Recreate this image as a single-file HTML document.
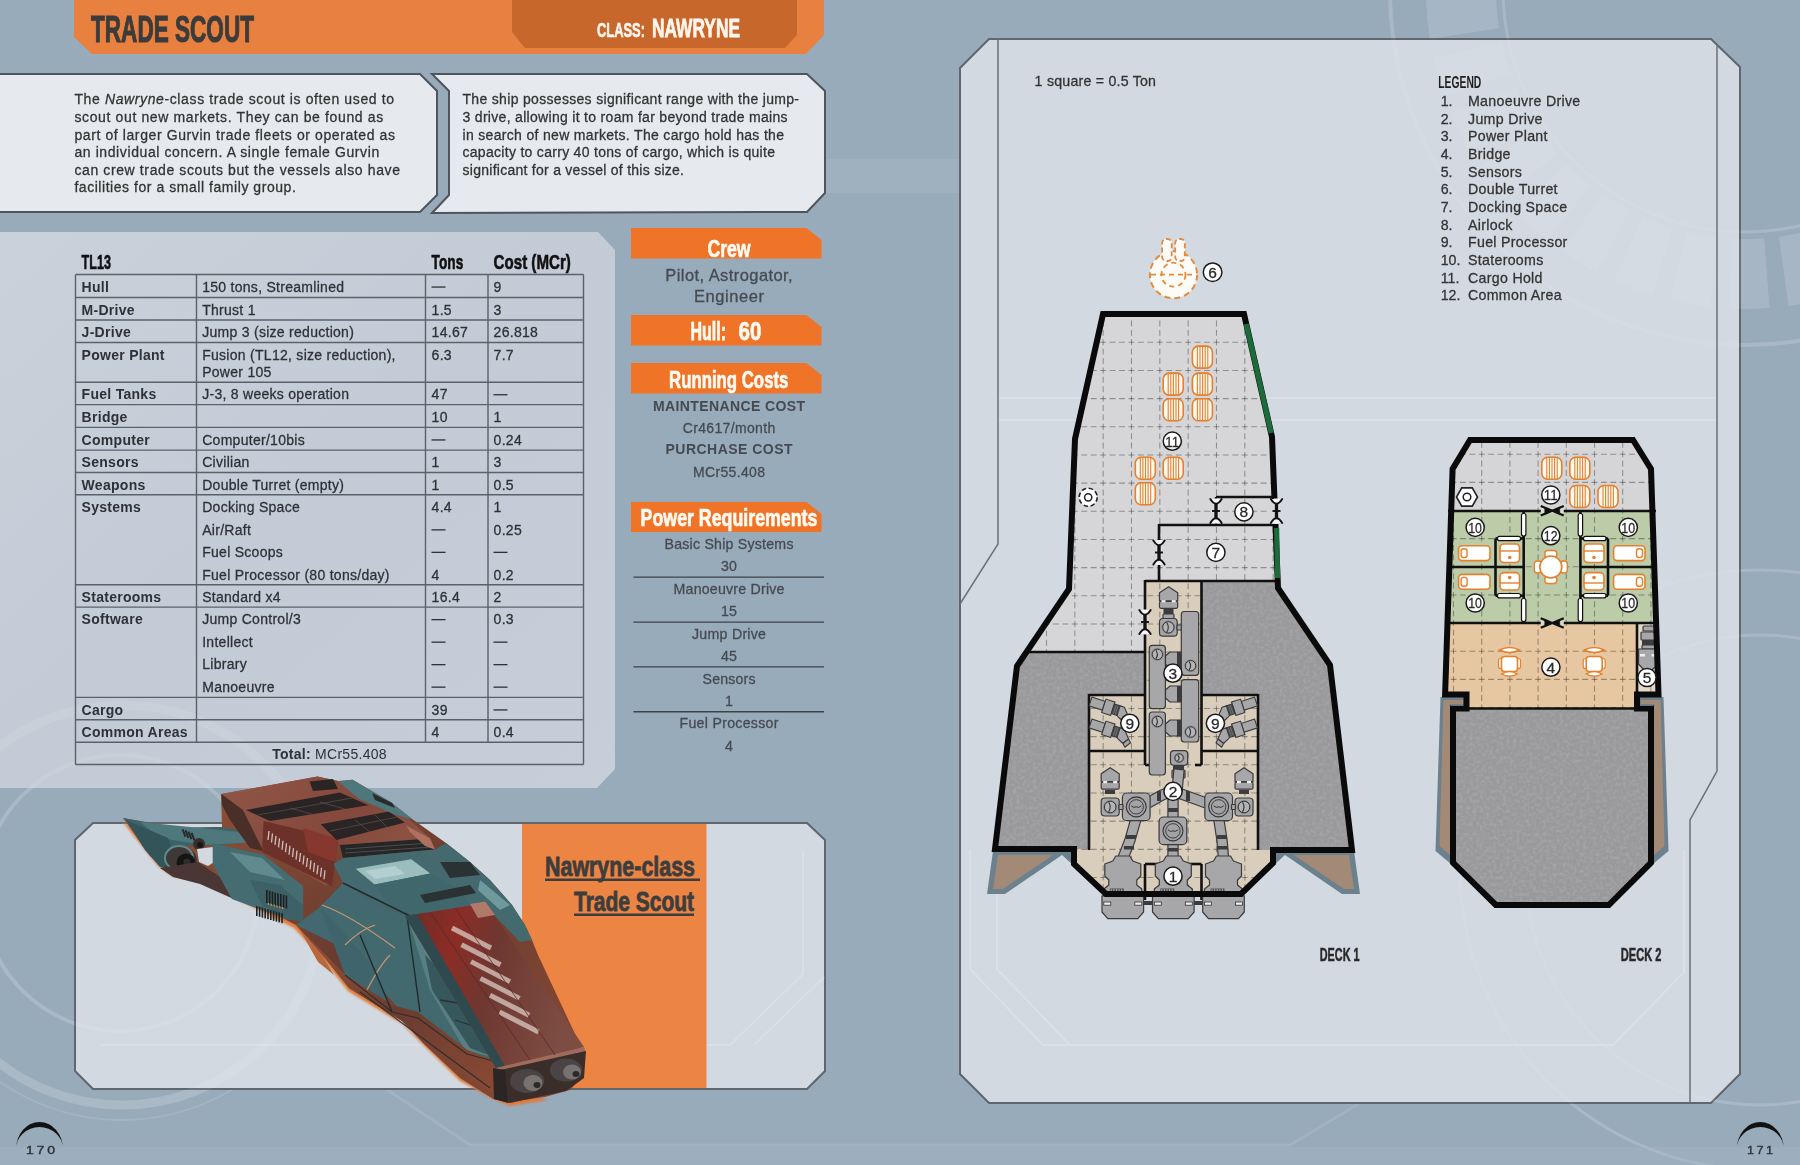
<!DOCTYPE html>
<html><head><meta charset="utf-8">
<style>
html,body{margin:0;padding:0;width:1800px;height:1165px;overflow:hidden;background:#9aacbb;}
svg{display:block;position:absolute;left:0;top:0;}
text{font-family:"Liberation Sans",sans-serif;}
.c{font-family:"Liberation Sans",sans-serif;font-weight:bold;}
</style></head><body>
<svg width="1800" height="1165" viewBox="0 0 1800 1165">
<defs>
<filter id="noise" x="0" y="0" width="100%" height="100%">
<feTurbulence type="fractalNoise" baseFrequency="0.3" numOctaves="2" seed="7" result="n"/>
<feColorMatrix in="n" type="matrix" values="0 0 0 0 0.42  0 0 0 0 0.42  0 0 0 0 0.43  0 0 0 1.3 -0.5" result="m"/>
<feComposite in="m" in2="SourceGraphic" operator="in" result="c"/>
<feMerge><feMergeNode in="SourceGraphic"/><feMergeNode in="c"/></feMerge>
</filter>
<linearGradient id="statg" x1="0" y1="0" x2="1" y2="1">
<stop offset="0" stop-color="#c9d2db"/><stop offset="0.5" stop-color="#c3ccd6"/><stop offset="1" stop-color="#c6cfd9"/>
</linearGradient>
</defs>
<rect x="0" y="0" width="1800" height="1165" fill="#98abbb"/>
<g fill="none" stroke="#ffffff" opacity="0.1"><circle cx="1745" cy="-10" r="355" stroke-width="4"/><circle cx="1745" cy="-10" r="242" stroke-width="3"/><circle cx="1745" cy="-10" r="284" stroke-width="70" stroke-dasharray="36,17" opacity="0.8"/><circle cx="1760" cy="870" r="300" stroke-width="3"/><circle cx="1760" cy="870" r="235" stroke-width="3"/><circle cx="120" cy="893" r="138" stroke-width="4"/><circle cx="122" cy="905" r="200" stroke-width="9"/><circle cx="122" cy="905" r="215" stroke-width="2"/></g>
<rect x="825" y="159" width="135" height="34" fill="#a1b2c1" opacity="0.8"/>
<rect x="0" y="1147" width="1800" height="18" fill="#a0b1bf" opacity="0.6"/>
<g fill="none" stroke="#a9bac7" stroke-width="3" opacity="0.5"><polyline points="380,1085 470,1145 1290,1145 1390,1085"/></g>
<polygon points="74,0 824,0 824,35 806,54 92,54 74,37" fill="#e8803f"/>
<polygon points="512,0 797,0 797,35 785,48 525,48 512,32" fill="#c8672c"/>
<text x="91" y="42" font-size="37.5" fill="#3b3b3b" font-weight="bold" textLength="163" lengthAdjust="spacingAndGlyphs" stroke="#3b3b3b" stroke-width="1.12" stroke-linejoin="miter">TRADE SCOUT</text>
<text x="597" y="37" font-size="20.5" fill="#fff6ee" font-weight="bold" textLength="48" lengthAdjust="spacingAndGlyphs" stroke="#fff6ee" stroke-width="0.61" stroke-linejoin="miter">CLASS:</text>
<text x="652" y="37" font-size="26.7" fill="#fff6ee" font-weight="bold" textLength="88" lengthAdjust="spacingAndGlyphs" stroke="#fff6ee" stroke-width="0.8" stroke-linejoin="miter">NAWRYNE</text>
<polygon points="-5,74 420,74 437,91 437,195 420,212 -5,212" fill="#e6e9ee" stroke="#4f555c" stroke-width="2"/>
<polygon points="432,74 807,74 825,91 825,193 807,212 432,213 449,195 449,91" fill="#e6e9ee" stroke="#4f555c" stroke-width="2"/>
<text x="74.4" y="104.4" font-size="14" fill="#333" textLength="319.6" lengthAdjust="spacing" stroke="#333" stroke-width="0.28">The <tspan font-style="italic">Nawryne</tspan>-class trade scout is often used to</text>
<text x="74.4" y="121.95" font-size="14" fill="#333" textLength="308.8" lengthAdjust="spacing" stroke="#333" stroke-width="0.28">scout out new markets. They can be found as</text>
<text x="74.4" y="139.5" font-size="14" fill="#333" textLength="320.6" lengthAdjust="spacing" stroke="#333" stroke-width="0.28">part of larger Gurvin trade fleets or operated as</text>
<text x="74.4" y="157.05" font-size="14" fill="#333" textLength="304.8" lengthAdjust="spacing" stroke="#333" stroke-width="0.28">an individual concern. A single female Gurvin</text>
<text x="74.4" y="174.6" font-size="14" fill="#333" textLength="325.6" lengthAdjust="spacing" stroke="#333" stroke-width="0.28">can crew trade scouts but the vessels also have</text>
<text x="74.4" y="192.15" font-size="14" fill="#333" textLength="221.4" lengthAdjust="spacing" stroke="#333" stroke-width="0.28">facilities for a small family group.</text>
<text x="462.5" y="104.4" font-size="14" fill="#333" textLength="336.5" lengthAdjust="spacing" stroke="#333" stroke-width="0.28">The ship possesses significant range with the jump-</text>
<text x="462.5" y="121.95" font-size="14" fill="#333" textLength="325.0" lengthAdjust="spacing" stroke="#333" stroke-width="0.28">3 drive, allowing it to roam far beyond trade mains</text>
<text x="462.5" y="139.5" font-size="14" fill="#333" textLength="321.5" lengthAdjust="spacing" stroke="#333" stroke-width="0.28">in search of new markets. The cargo hold has the</text>
<text x="462.5" y="157.05" font-size="14" fill="#333" textLength="312.5" lengthAdjust="spacing" stroke="#333" stroke-width="0.28">capacity to carry 40 tons of cargo, which is quite</text>
<text x="462.5" y="174.6" font-size="14" fill="#333" textLength="221.5" lengthAdjust="spacing" stroke="#333" stroke-width="0.28">significant for a vessel of this size.</text>
<polygon points="-5,232 598,232 615,250 615,769 597,788 -5,788" fill="url(#statg)"/>
<polygon points="93,823 807,823 825,840 825,1071 807,1089 93,1089 75,1071 75,840" fill="#d2d9e1" stroke="#5f666e" stroke-width="2"/>
<g fill="none" stroke="#ffffff" opacity="0.08"><circle cx="120" cy="893" r="138" stroke-width="4"/><circle cx="122" cy="905" r="200" stroke-width="9"/></g>
<g fill="none" stroke="#dfe5eb" stroke-width="2" opacity="0.5"><polyline points="803,850 803,974 730,1045 100,1045"/><polyline points="824,977 754,1045"/></g>
<rect x="522" y="824" width="184.5" height="264" fill="#ec8444"/>
<text x="545" y="876" font-size="27" fill="#3d3d3d" font-weight="bold" textLength="150" lengthAdjust="spacingAndGlyphs" stroke="#3d3d3d" stroke-width="0.81" stroke-linejoin="miter">Nawryne-class</text>
<rect x="545" y="878.5" width="155" height="2.5" fill="#3d3d3d"/>
<text x="574" y="911" font-size="27.5" fill="#3d3d3d" font-weight="bold" textLength="120" lengthAdjust="spacingAndGlyphs" stroke="#3d3d3d" stroke-width="0.82" stroke-linejoin="miter">Trade Scout</text>
<rect x="574" y="913.5" width="120" height="2.5" fill="#3d3d3d"/>
<polygon points="989,39 1711,39 1740,67 1740,1074 1711,1103 989,1103 960,1074 960,68" fill="#d2d9e1" stroke="#5f666e" stroke-width="2"/>
<g fill="none" stroke="#ffffff" opacity="0.07"><circle cx="1745" cy="-10" r="355" stroke-width="4"/><circle cx="1745" cy="-10" r="242" stroke-width="3"/><circle cx="1745" cy="-10" r="284" stroke-width="70" stroke-dasharray="36,17"/><circle cx="1760" cy="870" r="300" stroke-width="3"/><circle cx="1760" cy="870" r="235" stroke-width="3"/></g>
<g fill="none" stroke="#e2e7ed" stroke-width="2" opacity="0.5"><polyline points="970,850 970,969 1043,1045 1613,1045 1684,972 1684,850"/><polyline points="997,850 997,969 1070,1045"/><line x1="998" y1="398" x2="1717" y2="398"/><line x1="998" y1="420" x2="1717" y2="420"/></g>
<polyline points="998,39 998,544 960,604" fill="none" stroke="#6a7179" stroke-width="1.5"/>
<polyline points="1717,46 1717,771 1690,820 1690,1103" fill="none" stroke="#6a7179" stroke-width="1.5"/>
<path d="M 16.0,1149 A 23.5,27 0 0 1 63.0,1149 A 23.5,22 0 0 0 16.0,1149 Z" fill="#111"/>
<text x="26" y="1153.5" font-size="10.6" fill="#2e3236" stroke="#2e3236" stroke-width="0.35" textLength="29" lengthAdjust="spacingAndGlyphs" transform="translate(26 0) scale(1 1) translate(-26 0)">1&#8201;7&#8201;0</text>
<path d="M 1736.8,1149 A 23.5,27 0 0 1 1783.8,1149 A 23.5,22 0 0 0 1736.8,1149 Z" fill="#111"/>
<text x="1747" y="1153.5" font-size="10.6" fill="#2e3236" stroke="#2e3236" stroke-width="0.35" textLength="26" lengthAdjust="spacingAndGlyphs" transform="translate(1747 0) scale(1 1) translate(-1747 0)">1&#8201;7&#8201;1</text>
<g fill="none" stroke="#5b6168" stroke-width="1.4">
<line x1="75.5" y1="274.5" x2="583.5" y2="274.5"/>
<line x1="75.5" y1="297.5" x2="583.5" y2="297.5"/>
<line x1="75.5" y1="320" x2="583.5" y2="320"/>
<line x1="75.5" y1="342.5" x2="583.5" y2="342.5"/>
<line x1="75.5" y1="382.2" x2="583.5" y2="382.2"/>
<line x1="75.5" y1="404.6" x2="583.5" y2="404.6"/>
<line x1="75.5" y1="427.4" x2="583.5" y2="427.4"/>
<line x1="75.5" y1="450.1" x2="583.5" y2="450.1"/>
<line x1="75.5" y1="472.5" x2="583.5" y2="472.5"/>
<line x1="75.5" y1="494.8" x2="583.5" y2="494.8"/>
<line x1="75.5" y1="584.7" x2="583.5" y2="584.7"/>
<line x1="75.5" y1="607.1" x2="583.5" y2="607.1"/>
<line x1="75.5" y1="697.4" x2="583.5" y2="697.4"/>
<line x1="75.5" y1="719.8" x2="583.5" y2="719.8"/>
<line x1="75.5" y1="742.2" x2="583.5" y2="742.2"/>
<line x1="75.5" y1="764.5" x2="583.5" y2="764.5"/>
<line x1="75.5" y1="274.5" x2="75.5" y2="764.5"/>
<line x1="196.5" y1="274.5" x2="196.5" y2="742.2"/>
<line x1="425.5" y1="274.5" x2="425.5" y2="742.2"/>
<line x1="488" y1="274.5" x2="488" y2="742.2"/>
<line x1="583.5" y1="274.5" x2="583.5" y2="764.5"/>
</g>
<text x="81.6" y="269.3" font-size="20.5" fill="#111" font-weight="bold" textLength="29.3" lengthAdjust="spacingAndGlyphs" stroke="#111" stroke-width="0.61" stroke-linejoin="miter">TL13</text>
<text x="431.6" y="269.3" font-size="20.5" fill="#111" font-weight="bold" textLength="31.7" lengthAdjust="spacingAndGlyphs" stroke="#111" stroke-width="0.61" stroke-linejoin="miter">Tons</text>
<text x="493.6" y="269.3" font-size="20.5" fill="#111" font-weight="bold" textLength="77.2" lengthAdjust="spacingAndGlyphs" stroke="#111" stroke-width="0.61" stroke-linejoin="miter">Cost (MCr)</text>
<text x="81.6" y="291.7" font-size="14" fill="#2e3135" font-weight="bold" letter-spacing="0.28">Hull</text>
<text x="202.2" y="291.7" font-size="14" fill="#2e3135" stroke="#2e3135" stroke-width="0.28" letter-spacing="0.28">150 tons, Streamlined</text>
<rect x="431.5" y="286.4" width="14" height="1.3" fill="#2e3135"/>
<text x="493.6" y="291.7" font-size="14" fill="#2e3135" stroke="#2e3135" stroke-width="0.28" letter-spacing="0.28">9</text>
<text x="81.6" y="314.7" font-size="14" fill="#2e3135" font-weight="bold" letter-spacing="0.28">M-Drive</text>
<text x="202.2" y="314.7" font-size="14" fill="#2e3135" stroke="#2e3135" stroke-width="0.28" letter-spacing="0.28">Thrust 1</text>
<text x="431.6" y="314.7" font-size="14" fill="#2e3135" stroke="#2e3135" stroke-width="0.28" letter-spacing="0.28">1.5</text>
<text x="493.6" y="314.7" font-size="14" fill="#2e3135" stroke="#2e3135" stroke-width="0.28" letter-spacing="0.28">3</text>
<text x="81.6" y="337.2" font-size="14" fill="#2e3135" font-weight="bold" letter-spacing="0.28">J-Drive</text>
<text x="202.2" y="337.2" font-size="14" fill="#2e3135" stroke="#2e3135" stroke-width="0.28" letter-spacing="0.28">Jump 3 (size reduction)</text>
<text x="431.6" y="337.2" font-size="14" fill="#2e3135" stroke="#2e3135" stroke-width="0.28" letter-spacing="0.28">14.67</text>
<text x="493.6" y="337.2" font-size="14" fill="#2e3135" stroke="#2e3135" stroke-width="0.28" letter-spacing="0.28">26.818</text>
<text x="81.6" y="359.7" font-size="14" fill="#2e3135" font-weight="bold" letter-spacing="0.28">Power Plant</text>
<text x="202.2" y="359.7" font-size="14" fill="#2e3135" stroke="#2e3135" stroke-width="0.28" letter-spacing="0.28">Fusion (TL12, size reduction),</text>
<text x="202.2" y="377.0" font-size="14" fill="#2e3135" stroke="#2e3135" stroke-width="0.28" letter-spacing="0.28">Power 105</text>
<text x="431.6" y="359.7" font-size="14" fill="#2e3135" stroke="#2e3135" stroke-width="0.28" letter-spacing="0.28">6.3</text>
<text x="493.6" y="359.7" font-size="14" fill="#2e3135" stroke="#2e3135" stroke-width="0.28" letter-spacing="0.28">7.7</text>
<text x="81.6" y="399.4" font-size="14" fill="#2e3135" font-weight="bold" letter-spacing="0.28">Fuel Tanks</text>
<text x="202.2" y="399.4" font-size="14" fill="#2e3135" stroke="#2e3135" stroke-width="0.28" letter-spacing="0.28">J-3, 8 weeks operation</text>
<text x="431.6" y="399.4" font-size="14" fill="#2e3135" stroke="#2e3135" stroke-width="0.28" letter-spacing="0.28">47</text>
<rect x="493.5" y="394.1" width="14" height="1.3" fill="#2e3135"/>
<text x="81.6" y="421.8" font-size="14" fill="#2e3135" font-weight="bold" letter-spacing="0.28">Bridge</text>
<text x="431.6" y="421.8" font-size="14" fill="#2e3135" stroke="#2e3135" stroke-width="0.28" letter-spacing="0.28">10</text>
<text x="493.6" y="421.8" font-size="14" fill="#2e3135" stroke="#2e3135" stroke-width="0.28" letter-spacing="0.28">1</text>
<text x="81.6" y="444.59999999999997" font-size="14" fill="#2e3135" font-weight="bold" letter-spacing="0.28">Computer</text>
<text x="202.2" y="444.6" font-size="14" fill="#2e3135" stroke="#2e3135" stroke-width="0.28" letter-spacing="0.28">Computer/10bis</text>
<rect x="431.5" y="439.3" width="14" height="1.3" fill="#2e3135"/>
<text x="493.6" y="444.6" font-size="14" fill="#2e3135" stroke="#2e3135" stroke-width="0.28" letter-spacing="0.28">0.24</text>
<text x="81.6" y="467.3" font-size="14" fill="#2e3135" font-weight="bold" letter-spacing="0.28">Sensors</text>
<text x="202.2" y="467.3" font-size="14" fill="#2e3135" stroke="#2e3135" stroke-width="0.28" letter-spacing="0.28">Civilian</text>
<text x="431.6" y="467.3" font-size="14" fill="#2e3135" stroke="#2e3135" stroke-width="0.28" letter-spacing="0.28">1</text>
<text x="493.6" y="467.3" font-size="14" fill="#2e3135" stroke="#2e3135" stroke-width="0.28" letter-spacing="0.28">3</text>
<text x="81.6" y="489.7" font-size="14" fill="#2e3135" font-weight="bold" letter-spacing="0.28">Weapons</text>
<text x="202.2" y="489.7" font-size="14" fill="#2e3135" stroke="#2e3135" stroke-width="0.28" letter-spacing="0.28">Double Turret (empty)</text>
<text x="431.6" y="489.7" font-size="14" fill="#2e3135" stroke="#2e3135" stroke-width="0.28" letter-spacing="0.28">1</text>
<text x="493.6" y="489.7" font-size="14" fill="#2e3135" stroke="#2e3135" stroke-width="0.28" letter-spacing="0.28">0.5</text>
<text x="81.6" y="512.0" font-size="14" fill="#2e3135" font-weight="bold" letter-spacing="0.28">Systems</text>
<text x="202.2" y="512.0" font-size="14" fill="#2e3135" stroke="#2e3135" stroke-width="0.28" letter-spacing="0.28">Docking Space</text>
<text x="202.2" y="534.5" font-size="14" fill="#2e3135" stroke="#2e3135" stroke-width="0.28" letter-spacing="0.28">Air/Raft</text>
<text x="202.2" y="557.0" font-size="14" fill="#2e3135" stroke="#2e3135" stroke-width="0.28" letter-spacing="0.28">Fuel Scoops</text>
<text x="202.2" y="579.5" font-size="14" fill="#2e3135" stroke="#2e3135" stroke-width="0.28" letter-spacing="0.28">Fuel Processor (80 tons/day)</text>
<text x="431.6" y="512.0" font-size="14" fill="#2e3135" stroke="#2e3135" stroke-width="0.28" letter-spacing="0.28">4.4</text>
<rect x="431.5" y="529.2" width="14" height="1.3" fill="#2e3135"/>
<rect x="431.5" y="551.7" width="14" height="1.3" fill="#2e3135"/>
<text x="431.6" y="579.5" font-size="14" fill="#2e3135" stroke="#2e3135" stroke-width="0.28" letter-spacing="0.28">4</text>
<text x="493.6" y="512.0" font-size="14" fill="#2e3135" stroke="#2e3135" stroke-width="0.28" letter-spacing="0.28">1</text>
<text x="493.6" y="534.5" font-size="14" fill="#2e3135" stroke="#2e3135" stroke-width="0.28" letter-spacing="0.28">0.25</text>
<rect x="493.5" y="551.7" width="14" height="1.3" fill="#2e3135"/>
<text x="493.6" y="579.5" font-size="14" fill="#2e3135" stroke="#2e3135" stroke-width="0.28" letter-spacing="0.28">0.2</text>
<text x="81.6" y="601.9000000000001" font-size="14" fill="#2e3135" font-weight="bold" letter-spacing="0.28">Staterooms</text>
<text x="202.2" y="601.9" font-size="14" fill="#2e3135" stroke="#2e3135" stroke-width="0.28" letter-spacing="0.28">Standard x4</text>
<text x="431.6" y="601.9" font-size="14" fill="#2e3135" stroke="#2e3135" stroke-width="0.28" letter-spacing="0.28">16.4</text>
<text x="493.6" y="601.9" font-size="14" fill="#2e3135" stroke="#2e3135" stroke-width="0.28" letter-spacing="0.28">2</text>
<text x="81.6" y="624.3000000000001" font-size="14" fill="#2e3135" font-weight="bold" letter-spacing="0.28">Software</text>
<text x="202.2" y="624.3" font-size="14" fill="#2e3135" stroke="#2e3135" stroke-width="0.28" letter-spacing="0.28">Jump Control/3</text>
<text x="202.2" y="646.8" font-size="14" fill="#2e3135" stroke="#2e3135" stroke-width="0.28" letter-spacing="0.28">Intellect</text>
<text x="202.2" y="669.3" font-size="14" fill="#2e3135" stroke="#2e3135" stroke-width="0.28" letter-spacing="0.28">Library</text>
<text x="202.2" y="691.8" font-size="14" fill="#2e3135" stroke="#2e3135" stroke-width="0.28" letter-spacing="0.28">Manoeuvre</text>
<rect x="431.5" y="619.0" width="14" height="1.3" fill="#2e3135"/>
<rect x="431.5" y="641.5" width="14" height="1.3" fill="#2e3135"/>
<rect x="431.5" y="664.0" width="14" height="1.3" fill="#2e3135"/>
<rect x="431.5" y="686.5" width="14" height="1.3" fill="#2e3135"/>
<text x="493.6" y="624.3" font-size="14" fill="#2e3135" stroke="#2e3135" stroke-width="0.28" letter-spacing="0.28">0.3</text>
<rect x="493.5" y="641.5" width="14" height="1.3" fill="#2e3135"/>
<rect x="493.5" y="664.0" width="14" height="1.3" fill="#2e3135"/>
<rect x="493.5" y="686.5" width="14" height="1.3" fill="#2e3135"/>
<text x="81.6" y="714.6" font-size="14" fill="#2e3135" font-weight="bold" letter-spacing="0.28">Cargo</text>
<text x="431.6" y="714.6" font-size="14" fill="#2e3135" stroke="#2e3135" stroke-width="0.28" letter-spacing="0.28">39</text>
<rect x="493.5" y="709.3" width="14" height="1.3" fill="#2e3135"/>
<text x="81.6" y="737.0" font-size="14" fill="#2e3135" font-weight="bold" letter-spacing="0.28">Common Areas</text>
<text x="431.6" y="737.0" font-size="14" fill="#2e3135" stroke="#2e3135" stroke-width="0.28" letter-spacing="0.28">4</text>
<text x="493.6" y="737.0" font-size="14" fill="#2e3135" stroke="#2e3135" stroke-width="0.28" letter-spacing="0.28">0.4</text>
<text x="329.5" y="759" font-size="14" fill="#2e3135" text-anchor="middle" letter-spacing="0.28"><tspan font-weight="bold">Total:</tspan> MCr55.408</text>
<polygon points="631,228 806.5,228 821.5,240 821.5,258.5 631,258.5" fill="#f07428"/>
<text x="707.4" y="256.5" font-size="23.5" fill="#fffaf2" font-weight="bold" textLength="43.2" lengthAdjust="spacingAndGlyphs" stroke="#fffaf2" stroke-width="0.7" stroke-linejoin="miter">Crew</text>
<text x="729" y="281.3" font-size="16.5" fill="#454a50" text-anchor="middle" textLength="127.4" lengthAdjust="spacing" stroke="#454a50" stroke-width="0.28">Pilot, Astrogator,</text>
<text x="729" y="301.7" font-size="16.5" fill="#454a50" text-anchor="middle" textLength="70" lengthAdjust="spacing" stroke="#454a50" stroke-width="0.28">Engineer</text>
<polygon points="631,315 806.5,315 821.5,327 821.5,345.5 631,345.5" fill="#f07428"/>
<text x="690.5" y="339.5" font-size="25" fill="#fffaf2" font-weight="bold" textLength="35.5" lengthAdjust="spacingAndGlyphs" stroke="#fffaf2" stroke-width="0.75" stroke-linejoin="miter">Hull:</text>
<text x="738.6" y="339.5" font-size="25" fill="#fffaf2" font-weight="bold" textLength="22.8" lengthAdjust="spacingAndGlyphs" stroke="#fffaf2" stroke-width="0.75" stroke-linejoin="miter">60</text>
<polygon points="631,363 806.5,363 821.5,375 821.5,393.6 631,393.6" fill="#f07428"/>
<text x="669" y="387.5" font-size="24" fill="#fffaf2" font-weight="bold" textLength="119.4" lengthAdjust="spacingAndGlyphs" stroke="#fffaf2" stroke-width="0.72" stroke-linejoin="miter">Running Costs</text>
<text x="729" y="410.6" font-size="14" fill="#454a50" font-weight="bold" text-anchor="middle" textLength="152" lengthAdjust="spacing">MAINTENANCE COST</text>
<text x="729" y="432.7" font-size="14" fill="#454a50" text-anchor="middle" textLength="92.5" lengthAdjust="spacing" stroke="#454a50" stroke-width="0.28">Cr4617/month</text>
<text x="729" y="454.4" font-size="14" fill="#454a50" font-weight="bold" text-anchor="middle" textLength="127" lengthAdjust="spacing">PURCHASE COST</text>
<text x="729" y="477.2" font-size="14" fill="#454a50" text-anchor="middle" textLength="72" lengthAdjust="spacing" stroke="#454a50" stroke-width="0.28">MCr55.408</text>
<polygon points="631,502 806.5,502 821.5,514 821.5,532 631,532" fill="#f07428"/>
<text x="640.6" y="526" font-size="24.5" fill="#fffaf2" font-weight="bold" textLength="176.8" lengthAdjust="spacingAndGlyphs" stroke="#fffaf2" stroke-width="0.73" stroke-linejoin="miter">Power Requirements</text>
<text x="729" y="549.0" font-size="14.2" fill="#454a50" text-anchor="middle" textLength="129" lengthAdjust="spacing" stroke="#454a50" stroke-width="0.28">Basic Ship Systems</text>
<text x="729" y="571.3" font-size="14.2" fill="#454a50" text-anchor="middle" stroke="#454a50" stroke-width="0.28">30</text>
<line x1="633.4" y1="577.2" x2="824" y2="577.2" stroke="#3e4348" stroke-width="1.3"/>
<text x="729" y="593.85" font-size="14.2" fill="#454a50" text-anchor="middle" textLength="110.9" lengthAdjust="spacing" stroke="#454a50" stroke-width="0.28">Manoeuvre Drive</text>
<text x="729" y="616.15" font-size="14.2" fill="#454a50" text-anchor="middle" stroke="#454a50" stroke-width="0.28">15</text>
<line x1="633.4" y1="622.05" x2="824" y2="622.05" stroke="#3e4348" stroke-width="1.3"/>
<text x="729" y="638.7" font-size="14.2" fill="#454a50" text-anchor="middle" textLength="74" lengthAdjust="spacing" stroke="#454a50" stroke-width="0.28">Jump Drive</text>
<text x="729" y="661.0" font-size="14.2" fill="#454a50" text-anchor="middle" stroke="#454a50" stroke-width="0.28">45</text>
<line x1="633.4" y1="666.9" x2="824" y2="666.9" stroke="#3e4348" stroke-width="1.3"/>
<text x="729" y="683.55" font-size="14.2" fill="#454a50" text-anchor="middle" textLength="53" lengthAdjust="spacing" stroke="#454a50" stroke-width="0.28">Sensors</text>
<text x="729" y="705.85" font-size="14.2" fill="#454a50" text-anchor="middle" stroke="#454a50" stroke-width="0.28">1</text>
<line x1="633.4" y1="711.75" x2="824" y2="711.75" stroke="#3e4348" stroke-width="1.3"/>
<text x="729" y="728.4" font-size="14.2" fill="#454a50" text-anchor="middle" textLength="99" lengthAdjust="spacing" stroke="#454a50" stroke-width="0.28">Fuel Processor</text>
<text x="729" y="750.7" font-size="14.2" fill="#454a50" text-anchor="middle" stroke="#454a50" stroke-width="0.28">4</text>
<text x="1034.6" y="85.5" font-size="14.2" fill="#333" textLength="121.4" lengthAdjust="spacing" stroke="#333" stroke-width="0.28">1 square = 0.5 Ton</text>
<text x="1438.3" y="88.3" font-size="16.5" fill="#1e1e1e" font-weight="bold" textLength="43" lengthAdjust="spacingAndGlyphs">LEGEND</text>
<text x="1440.7" y="106.0" font-size="14.2" fill="#333" stroke="#333" stroke-width="0.28">1.</text>
<text x="1468" y="106.0" font-size="14.2" fill="#333" stroke="#333" stroke-width="0.28" letter-spacing="0.3">Manoeuvre Drive</text>
<text x="1440.7" y="123.68" font-size="14.2" fill="#333" stroke="#333" stroke-width="0.28">2.</text>
<text x="1468" y="123.68" font-size="14.2" fill="#333" stroke="#333" stroke-width="0.28" letter-spacing="0.3">Jump Drive</text>
<text x="1440.7" y="141.36" font-size="14.2" fill="#333" stroke="#333" stroke-width="0.28">3.</text>
<text x="1468" y="141.36" font-size="14.2" fill="#333" stroke="#333" stroke-width="0.28" letter-spacing="0.3">Power Plant</text>
<text x="1440.7" y="159.04" font-size="14.2" fill="#333" stroke="#333" stroke-width="0.28">4.</text>
<text x="1468" y="159.04" font-size="14.2" fill="#333" stroke="#333" stroke-width="0.28" letter-spacing="0.3">Bridge</text>
<text x="1440.7" y="176.72" font-size="14.2" fill="#333" stroke="#333" stroke-width="0.28">5.</text>
<text x="1468" y="176.72" font-size="14.2" fill="#333" stroke="#333" stroke-width="0.28" letter-spacing="0.3">Sensors</text>
<text x="1440.7" y="194.4" font-size="14.2" fill="#333" stroke="#333" stroke-width="0.28">6.</text>
<text x="1468" y="194.4" font-size="14.2" fill="#333" stroke="#333" stroke-width="0.28" letter-spacing="0.3">Double Turret</text>
<text x="1440.7" y="212.08" font-size="14.2" fill="#333" stroke="#333" stroke-width="0.28">7.</text>
<text x="1468" y="212.08" font-size="14.2" fill="#333" stroke="#333" stroke-width="0.28" letter-spacing="0.3">Docking Space</text>
<text x="1440.7" y="229.76" font-size="14.2" fill="#333" stroke="#333" stroke-width="0.28">8.</text>
<text x="1468" y="229.76" font-size="14.2" fill="#333" stroke="#333" stroke-width="0.28" letter-spacing="0.3">Airlock</text>
<text x="1440.7" y="247.44" font-size="14.2" fill="#333" stroke="#333" stroke-width="0.28">9.</text>
<text x="1468" y="247.44" font-size="14.2" fill="#333" stroke="#333" stroke-width="0.28" letter-spacing="0.3">Fuel Processor</text>
<text x="1440.7" y="265.12" font-size="14.2" fill="#333" stroke="#333" stroke-width="0.28">10.</text>
<text x="1468" y="265.12" font-size="14.2" fill="#333" stroke="#333" stroke-width="0.28" letter-spacing="0.3">Staterooms</text>
<text x="1440.7" y="282.8" font-size="14.2" fill="#333" stroke="#333" stroke-width="0.28">11.</text>
<text x="1468" y="282.8" font-size="14.2" fill="#333" stroke="#333" stroke-width="0.28" letter-spacing="0.3">Cargo Hold</text>
<text x="1440.7" y="300.48" font-size="14.2" fill="#333" stroke="#333" stroke-width="0.28">12.</text>
<text x="1468" y="300.48" font-size="14.2" fill="#333" stroke="#333" stroke-width="0.28" letter-spacing="0.3">Common Area</text>
<text x="1319.8" y="961.2" font-size="17.8" fill="#2a2a2a" font-weight="bold" textLength="39.7" lengthAdjust="spacingAndGlyphs" stroke="#2a2a2a" stroke-width="0.53" stroke-linejoin="miter">DECK 1</text>
<text x="1620.8" y="961.2" font-size="17.8" fill="#2a2a2a" font-weight="bold" textLength="40.6" lengthAdjust="spacingAndGlyphs" stroke="#2a2a2a" stroke-width="0.53" stroke-linejoin="miter">DECK 2</text>
<defs><clipPath id="h1clip"><polygon points="1103,314 1244,314 1272,437 1278,588 1330,665 1352,850 1273,850 1273,863 1241,894 1106,894 1074,864 1074,849 995,849 1017,666 1069,589 1075,439"/></clipPath></defs>
<polygon points="993,851 1074,851 1074,866 1062,855 1005,894 987,894" fill="#6b818d"/>
<polygon points="998,855 1053,855 1003,889 993,889" fill="#a38a76"/>
<polygon points="1354,851 1273,851 1273,866 1285,855 1342,894 1360,894" fill="#6b818d"/>
<polygon points="1349,855 1294,855 1344,889 1354,889" fill="#a38a76"/>
<polygon points="1103,314 1244,314 1272,437 1278,588 1330,665 1352,850 1273,850 1273,863 1241,894 1106,894 1074,864 1074,849 995,849 1017,666 1069,589 1075,439" fill="#d6d6d8"/>
<polygon points="1145,581 1201.5,581 1201.5,695 1258,695 1258,850 1273,850 1273,863 1241,894 1106,894 1074,864 1074,849 1089,849 1089,695 1145,695" fill="#d9cdbb"/>
<g clip-path="url(#h1clip)" stroke="rgba(0,0,0,0.33)" stroke-width="1.1" fill="none"><line x1="989.84" y1="300" x2="989.84" y2="900" stroke-dasharray="5.92,3.47" stroke-dashoffset="7.64"/><line x1="1018.17" y1="300" x2="1018.17" y2="900" stroke-dasharray="5.92,3.47" stroke-dashoffset="7.64"/><line x1="1046.5" y1="300" x2="1046.5" y2="900" stroke-dasharray="5.92,3.47" stroke-dashoffset="7.64"/><line x1="1074.83" y1="300" x2="1074.83" y2="900" stroke-dasharray="5.92,3.47" stroke-dashoffset="7.64"/><line x1="1103.16" y1="300" x2="1103.16" y2="900" stroke-dasharray="5.92,3.47" stroke-dashoffset="7.64"/><line x1="1131.49" y1="300" x2="1131.49" y2="900" stroke-dasharray="5.92,3.47" stroke-dashoffset="7.64"/><line x1="1159.82" y1="300" x2="1159.82" y2="900" stroke-dasharray="5.92,3.47" stroke-dashoffset="7.64"/><line x1="1188.15" y1="300" x2="1188.15" y2="900" stroke-dasharray="5.92,3.47" stroke-dashoffset="7.64"/><line x1="1216.48" y1="300" x2="1216.48" y2="900" stroke-dasharray="5.92,3.47" stroke-dashoffset="7.64"/><line x1="1244.81" y1="300" x2="1244.81" y2="900" stroke-dasharray="5.92,3.47" stroke-dashoffset="7.64"/><line x1="1273.14" y1="300" x2="1273.14" y2="900" stroke-dasharray="5.92,3.47" stroke-dashoffset="7.64"/><line x1="1301.47" y1="300" x2="1301.47" y2="900" stroke-dasharray="5.92,3.47" stroke-dashoffset="7.64"/><line x1="1329.8" y1="300" x2="1329.8" y2="900" stroke-dasharray="5.92,3.47" stroke-dashoffset="7.64"/><line x1="980" y1="342.27" x2="1360" y2="342.27" stroke-dasharray="5.95,3.49" stroke-dashoffset="2.58"/><line x1="980" y1="370.44" x2="1360" y2="370.44" stroke-dasharray="5.95,3.49" stroke-dashoffset="2.58"/><line x1="980" y1="398.61" x2="1360" y2="398.61" stroke-dasharray="5.95,3.49" stroke-dashoffset="2.58"/><line x1="980" y1="426.78" x2="1360" y2="426.78" stroke-dasharray="5.95,3.49" stroke-dashoffset="2.58"/><line x1="980" y1="454.95" x2="1360" y2="454.95" stroke-dasharray="5.95,3.49" stroke-dashoffset="2.58"/><line x1="980" y1="483.12" x2="1360" y2="483.12" stroke-dasharray="5.95,3.49" stroke-dashoffset="2.58"/><line x1="980" y1="511.29" x2="1360" y2="511.29" stroke-dasharray="5.95,3.49" stroke-dashoffset="2.58"/><line x1="980" y1="539.46" x2="1360" y2="539.46" stroke-dasharray="5.95,3.49" stroke-dashoffset="2.58"/><line x1="980" y1="567.63" x2="1360" y2="567.63" stroke-dasharray="5.95,3.49" stroke-dashoffset="2.58"/><line x1="980" y1="595.8" x2="1360" y2="595.8" stroke-dasharray="5.95,3.49" stroke-dashoffset="2.58"/><line x1="980" y1="623.97" x2="1360" y2="623.97" stroke-dasharray="5.95,3.49" stroke-dashoffset="2.58"/><line x1="980" y1="652.14" x2="1360" y2="652.14" stroke-dasharray="5.95,3.49" stroke-dashoffset="2.58"/><line x1="980" y1="680.31" x2="1360" y2="680.31" stroke-dasharray="5.95,3.49" stroke-dashoffset="2.58"/><line x1="980" y1="708.48" x2="1360" y2="708.48" stroke-dasharray="5.95,3.49" stroke-dashoffset="2.58"/><line x1="980" y1="736.65" x2="1360" y2="736.65" stroke-dasharray="5.95,3.49" stroke-dashoffset="2.58"/><line x1="980" y1="764.82" x2="1360" y2="764.82" stroke-dasharray="5.95,3.49" stroke-dashoffset="2.58"/><line x1="980" y1="792.99" x2="1360" y2="792.99" stroke-dasharray="5.95,3.49" stroke-dashoffset="2.58"/><line x1="980" y1="821.16" x2="1360" y2="821.16" stroke-dasharray="5.95,3.49" stroke-dashoffset="2.58"/><line x1="980" y1="849.33" x2="1360" y2="849.33" stroke-dasharray="5.95,3.49" stroke-dashoffset="2.58"/><line x1="980" y1="877.5" x2="1360" y2="877.5" stroke-dasharray="5.95,3.49" stroke-dashoffset="2.58"/></g>
<polygon points="1026.5,652 1145,652 1145,695 1089,695 1089,849 995,849 1017,666" fill="#99999c" filter="url(#noise)"/>
<polygon points="1201.5,581 1277.6,581 1278,588 1330,665 1352,850 1258,850 1258,695 1201.5,695" fill="#99999c" filter="url(#noise)"/>
<g stroke="#111" stroke-width="2.6" fill="none"><line x1="1026.5" y1="652" x2="1145" y2="652"/><line x1="1145" y1="581" x2="1278" y2="581"/><line x1="1145" y1="580" x2="1145" y2="765"/><line x1="1201.5" y1="580" x2="1201.5" y2="765"/><line x1="1089" y1="695" x2="1145" y2="695"/><line x1="1201.5" y1="695" x2="1258" y2="695"/><line x1="1089" y1="751" x2="1145" y2="751"/><line x1="1201.5" y1="751" x2="1258" y2="751"/><line x1="1089" y1="694" x2="1089" y2="850"/><line x1="1258" y1="694" x2="1258" y2="850"/><line x1="1145" y1="765" x2="1152" y2="765"/><line x1="1195" y1="765" x2="1201.5" y2="765"/><line x1="1216" y1="497" x2="1276" y2="497"/><line x1="1159" y1="525" x2="1276" y2="525"/><line x1="1216" y1="497" x2="1216" y2="525"/><line x1="1159" y1="524" x2="1159" y2="582"/><line x1="1145" y1="864" x2="1145" y2="900"/><line x1="1201.5" y1="864" x2="1201.5" y2="900"/><line x1="1145" y1="864" x2="1158" y2="864"/><line x1="1188" y1="864" x2="1201.5" y2="864"/></g>
<polygon points="1168.6,586.8 1177.7,592.8 1177.7,600.8 1159.5,600.8 1159.5,592.8" fill="#a7a7aa" stroke="#3a3a3c" stroke-width="1.2" stroke-linejoin="round"/>
<rect x="1159.5" y="601.3" width="18.200000000000045" height="7" rx="1.5" fill="#a7a7aa" stroke="#3a3a3c" stroke-width="1.2"/>
<rect x="1161.5" y="600.0999999999999" width="4" height="2.2" fill="#eee"/><rect x="1171.7" y="600.0999999999999" width="4" height="2.2" fill="#eee"/>
<rect x="1163.5" y="609" width="10" height="5" fill="#3c3c3e"/>
<rect x="1163" y="614" width="11" height="4.5" rx="1" fill="#a7a7aa" stroke="#3a3a3c" stroke-width="1.2"/>
<rect x="1159.5" y="618.5" width="17.7" height="17.7" rx="3.5" fill="#a7a7aa" stroke="#3a3a3c" stroke-width="1.2"/>
<circle cx="1168.35" cy="627.35" r="6.85" fill="#8c8c8f"/><circle cx="1168.35" cy="627.35" r="5.6499999999999995" fill="#b4b4b6" stroke="#333" stroke-width="1"/><path d="M 1166.85,622.7 Q 1169.85,627.35 1166.85,632.0" fill="none" stroke="#333" stroke-width="1.1"/>
<rect x="1177" y="625" width="5" height="5" rx="0.5" fill="#a7a7aa" stroke="#3a3a3c" stroke-width="1.2"/>
<rect x="1181.3" y="611.5" width="17.4" height="63.8" rx="3" fill="#a7a7aa" stroke="#3a3a3c" stroke-width="1.2"/>
<rect x="1149.3" y="645.3" width="16.1" height="63.4" rx="3" fill="#a7a7aa" stroke="#3a3a3c" stroke-width="1.2"/>
<rect x="1181.3" y="679.6" width="17.4" height="62.4" rx="3" fill="#a7a7aa" stroke="#3a3a3c" stroke-width="1.2"/>
<rect x="1149.3" y="712" width="16.1" height="63" rx="3" fill="#a7a7aa" stroke="#3a3a3c" stroke-width="1.2"/>
<polygon points="1165.5,656 1170,652 1181.3,652 1181.3,668 1170,668 1165.5,664" fill="#a7a7aa" stroke="#3a3a3c" stroke-width="1.2" stroke-linejoin="round"/>
<rect x="1177" y="652" width="4" height="16" fill="#3c3c3e"/>
<polygon points="1165.5,690 1170,686 1181.3,686 1181.3,702 1170,702 1165.5,698" fill="#a7a7aa" stroke="#3a3a3c" stroke-width="1.2" stroke-linejoin="round"/>
<rect x="1177" y="686" width="4" height="16" fill="#3c3c3e"/>
<polygon points="1165.5,724 1170,720 1181.3,720 1181.3,736 1170,736 1165.5,732" fill="#a7a7aa" stroke="#3a3a3c" stroke-width="1.2" stroke-linejoin="round"/>
<rect x="1177" y="720" width="4" height="16" fill="#3c3c3e"/>
<circle cx="1157.4" cy="654.4" r="6.4" fill="#8c8c8f"/><circle cx="1157.4" cy="654.4" r="5.2" fill="#b4b4b6" stroke="#333" stroke-width="1"/><path d="M 1155.9,650.1999999999999 Q 1158.9,654.4 1155.9,658.6" fill="none" stroke="#333" stroke-width="1.1"/>
<circle cx="1190.6" cy="665.7" r="6.4" fill="#8c8c8f"/><circle cx="1190.6" cy="665.7" r="5.2" fill="#b4b4b6" stroke="#333" stroke-width="1"/><path d="M 1189.1,661.5 Q 1192.1,665.7 1189.1,669.9000000000001" fill="none" stroke="#333" stroke-width="1.1"/>
<circle cx="1157.4" cy="721.5" r="6.4" fill="#8c8c8f"/><circle cx="1157.4" cy="721.5" r="5.2" fill="#b4b4b6" stroke="#333" stroke-width="1"/><path d="M 1155.9,717.3 Q 1158.9,721.5 1155.9,725.7" fill="none" stroke="#333" stroke-width="1.1"/>
<circle cx="1190.6" cy="732" r="6.4" fill="#8c8c8f"/><circle cx="1190.6" cy="732" r="5.2" fill="#b4b4b6" stroke="#333" stroke-width="1"/><path d="M 1189.1,727.8 Q 1192.1,732 1189.1,736.2" fill="none" stroke="#333" stroke-width="1.1"/>
<rect x="1170.5" y="750.6" width="17.2" height="14.7" rx="3.5" fill="#a7a7aa" stroke="#3a3a3c" stroke-width="1.2"/>
<circle cx="1179.1" cy="757.95" r="5.35" fill="#8c8c8f"/><circle cx="1179.1" cy="757.95" r="4.1499999999999995" fill="#b4b4b6" stroke="#333" stroke-width="1"/><path d="M 1177.6,754.8000000000001 Q 1180.6,757.95 1177.6,761.1" fill="none" stroke="#333" stroke-width="1.1"/>
<rect x="1173" y="766" width="11" height="4" fill="#3c3c3e"/>
<rect x="1172" y="770" width="13" height="8" rx="1" fill="#a7a7aa" stroke="#3a3a3c" stroke-width="1.2"/>
<polyline points="1136.2,818 1130,840 1123,858" fill="none" stroke="#3a3a3c" stroke-width="11.4" stroke-linejoin="round"/><polyline points="1136.2,818 1130,840 1123,858" fill="none" stroke="#a7a7aa" stroke-width="9" stroke-linejoin="round"/>
<polyline points="1218.6,818 1222,840 1223.5,858" fill="none" stroke="#3a3a3c" stroke-width="11.4" stroke-linejoin="round"/><polyline points="1218.6,818 1222,840 1223.5,858" fill="none" stroke="#a7a7aa" stroke-width="9" stroke-linejoin="round"/>
<polyline points="1173,842 1173,858" fill="none" stroke="#3a3a3c" stroke-width="11.4" stroke-linejoin="round"/><polyline points="1173,842 1173,858" fill="none" stroke="#a7a7aa" stroke-width="9" stroke-linejoin="round"/>
<polyline points="1148,803 1162,795 1173,791 1184,795 1206,803" fill="none" stroke="#3a3a3c" stroke-width="11.4" stroke-linejoin="round"/><polyline points="1148,803 1162,795 1173,791 1184,795 1206,803" fill="none" stroke="#a7a7aa" stroke-width="9" stroke-linejoin="round"/>
<polyline points="1173,791 1173,818" fill="none" stroke="#3a3a3c" stroke-width="11.4" stroke-linejoin="round"/><polyline points="1173,791 1173,818" fill="none" stroke="#a7a7aa" stroke-width="9" stroke-linejoin="round"/>
<polyline points="1179,770 1177,791" fill="none" stroke="#3a3a3c" stroke-width="11.4" stroke-linejoin="round"/><polyline points="1179,770 1177,791" fill="none" stroke="#a7a7aa" stroke-width="9" stroke-linejoin="round"/>
<rect x="1126" y="835" width="10" height="4" fill="#3c3c3e"/>
<rect x="1124" y="846" width="10" height="3.5" fill="#3c3c3e"/>
<rect x="1217" y="835" width="10" height="4" fill="#3c3c3e"/>
<rect x="1218" y="846" width="10" height="3.5" fill="#3c3c3e"/>
<rect x="1168" y="848" width="10" height="3.5" fill="#3c3c3e"/>
<rect x="1157" y="791" width="4" height="10" fill="#3c3c3e"/>
<rect x="1186" y="791" width="4" height="10" fill="#3c3c3e"/>
<rect x="1168" y="808" width="10" height="4" fill="#3c3c3e"/>
<rect x="1122.4" y="793" width="27.7" height="27.7" rx="4.5" fill="#a7a7aa" stroke="#3a3a3c" stroke-width="1.2"/>
<circle cx="1136.25" cy="806.85" r="10" fill="#a3a3a6" stroke="#333" stroke-width="1.1"/><circle cx="1136.25" cy="806.85" r="7.2" fill="none" stroke="#333" stroke-width="0.9"/><path d="M 1131.25,805.85 Q 1133.75,808.35 1136.25,806.85 Q 1138.75,808.35 1141.25,805.85" fill="none" stroke="#333" stroke-width="1"/>
<rect x="1204.8" y="793" width="27.7" height="27.7" rx="4.5" fill="#a7a7aa" stroke="#3a3a3c" stroke-width="1.2"/>
<circle cx="1218.6499999999999" cy="806.85" r="10" fill="#a3a3a6" stroke="#333" stroke-width="1.1"/><circle cx="1218.6499999999999" cy="806.85" r="7.2" fill="none" stroke="#333" stroke-width="0.9"/><path d="M 1213.6499999999999,805.85 Q 1216.1499999999999,808.35 1218.6499999999999,806.85 Q 1221.1499999999999,808.35 1223.6499999999999,805.85" fill="none" stroke="#333" stroke-width="1"/>
<rect x="1159.1" y="817" width="27.7" height="27.7" rx="4.5" fill="#a7a7aa" stroke="#3a3a3c" stroke-width="1.2"/>
<circle cx="1172.9499999999998" cy="830.85" r="10" fill="#a3a3a6" stroke="#333" stroke-width="1.1"/><circle cx="1172.9499999999998" cy="830.85" r="7.2" fill="none" stroke="#333" stroke-width="0.9"/><path d="M 1167.9499999999998,829.85 Q 1170.4499999999998,832.35 1172.9499999999998,830.85 Q 1175.4499999999998,832.35 1177.9499999999998,829.85" fill="none" stroke="#333" stroke-width="1"/>
<polygon points="1110.2,767.7 1119.2,773.7 1119.2,781.7 1101.2,781.7 1101.2,773.7" fill="#a7a7aa" stroke="#3a3a3c" stroke-width="1.2" stroke-linejoin="round"/>
<rect x="1101.2" y="782.2" width="18.0" height="7" rx="1.5" fill="#a7a7aa" stroke="#3a3a3c" stroke-width="1.2"/>
<rect x="1103.2" y="781.0" width="4" height="2.2" fill="#eee"/><rect x="1113.2" y="781.0" width="4" height="2.2" fill="#eee"/>
<rect x="1105" y="790" width="10" height="4" fill="#3c3c3e"/>
<rect x="1101.2" y="798" width="18" height="18" rx="3.5" fill="#a7a7aa" stroke="#3a3a3c" stroke-width="1.2"/>
<circle cx="1110.2" cy="807.0" r="7.0" fill="#8c8c8f"/><circle cx="1110.2" cy="807.0" r="5.8" fill="#b4b4b6" stroke="#333" stroke-width="1"/><path d="M 1108.7,802.2 Q 1111.7,807.0 1108.7,811.8" fill="none" stroke="#333" stroke-width="1.1"/>
<rect x="1119" y="804.5" width="4" height="5" rx="0.5" fill="#a7a7aa" stroke="#3a3a3c" stroke-width="1.2"/>
<polygon points="1244.0,767.7 1253,773.7 1253,781.7 1235,781.7 1235,773.7" fill="#a7a7aa" stroke="#3a3a3c" stroke-width="1.2" stroke-linejoin="round"/>
<rect x="1235" y="782.2" width="18" height="7" rx="1.5" fill="#a7a7aa" stroke="#3a3a3c" stroke-width="1.2"/>
<rect x="1237" y="781.0" width="4" height="2.2" fill="#eee"/><rect x="1247" y="781.0" width="4" height="2.2" fill="#eee"/>
<rect x="1239" y="790" width="10" height="4" fill="#3c3c3e"/>
<rect x="1235" y="798" width="18" height="18" rx="3.5" fill="#a7a7aa" stroke="#3a3a3c" stroke-width="1.2"/>
<circle cx="1244.0" cy="807.0" r="7.0" fill="#8c8c8f"/><circle cx="1244.0" cy="807.0" r="5.8" fill="#b4b4b6" stroke="#333" stroke-width="1"/><path d="M 1242.5,802.2 Q 1245.5,807.0 1242.5,811.8" fill="none" stroke="#333" stroke-width="1.1"/>
<rect x="1231.5" y="804.5" width="4" height="5" rx="0.5" fill="#a7a7aa" stroke="#3a3a3c" stroke-width="1.2"/>
<polygon points="1115.8,856 1129.8,856 1132.8,861 1140.8,864 1140.8,876 1136.8,880 1136.8,885 1141.8,889 1141.8,895 1103.8,895 1103.8,889 1108.8,885 1108.8,880 1104.8,876 1104.8,864 1112.8,861" fill="#a7a7aa" stroke="#3a3a3c" stroke-width="1.2" stroke-linejoin="round"/>
<rect x="1109.8" y="888.5" width="14" height="6.5" fill="#555"/>
<line x1="1111.3" y1="889" x2="1111.3" y2="895" stroke="#bbb" stroke-width="0.8"/>
<line x1="1113.8999999999999" y1="889" x2="1113.8999999999999" y2="895" stroke="#bbb" stroke-width="0.8"/>
<line x1="1116.5" y1="889" x2="1116.5" y2="895" stroke="#bbb" stroke-width="0.8"/>
<line x1="1119.1" y1="889" x2="1119.1" y2="895" stroke="#bbb" stroke-width="0.8"/>
<line x1="1121.7" y1="889" x2="1121.7" y2="895" stroke="#bbb" stroke-width="0.8"/>
<polygon points="1102.0,895.8 1143.6,895.8 1143.6,912 1137.8,918.6 1107.8,918.6 1102.0,912" fill="#a7a7aa" stroke="#3a3a3c" stroke-width="1.2" stroke-linejoin="round"/>
<rect x="1103.8" y="902" width="7" height="3.2" fill="#eee" stroke="#333" stroke-width="0.8"/><rect x="1134.8" y="902" width="7" height="3.2" fill="#eee" stroke="#333" stroke-width="0.8"/>
<polygon points="1166.3,856 1180.3,856 1183.3,861 1191.3,864 1191.3,876 1187.3,880 1187.3,885 1192.3,889 1192.3,895 1154.3,895 1154.3,889 1159.3,885 1159.3,880 1155.3,876 1155.3,864 1163.3,861" fill="#a7a7aa" stroke="#3a3a3c" stroke-width="1.2" stroke-linejoin="round"/>
<rect x="1160.3" y="888.5" width="14" height="6.5" fill="#555"/>
<line x1="1161.8" y1="889" x2="1161.8" y2="895" stroke="#bbb" stroke-width="0.8"/>
<line x1="1164.3999999999999" y1="889" x2="1164.3999999999999" y2="895" stroke="#bbb" stroke-width="0.8"/>
<line x1="1167.0" y1="889" x2="1167.0" y2="895" stroke="#bbb" stroke-width="0.8"/>
<line x1="1169.6" y1="889" x2="1169.6" y2="895" stroke="#bbb" stroke-width="0.8"/>
<line x1="1172.2" y1="889" x2="1172.2" y2="895" stroke="#bbb" stroke-width="0.8"/>
<polygon points="1152.5,895.8 1194.1,895.8 1194.1,912 1188.3,918.6 1158.3,918.6 1152.5,912" fill="#a7a7aa" stroke="#3a3a3c" stroke-width="1.2" stroke-linejoin="round"/>
<rect x="1154.3" y="902" width="7" height="3.2" fill="#eee" stroke="#333" stroke-width="0.8"/><rect x="1185.3" y="902" width="7" height="3.2" fill="#eee" stroke="#333" stroke-width="0.8"/>
<polygon points="1216.5,856 1230.5,856 1233.5,861 1241.5,864 1241.5,876 1237.5,880 1237.5,885 1242.5,889 1242.5,895 1204.5,895 1204.5,889 1209.5,885 1209.5,880 1205.5,876 1205.5,864 1213.5,861" fill="#a7a7aa" stroke="#3a3a3c" stroke-width="1.2" stroke-linejoin="round"/>
<rect x="1210.5" y="888.5" width="14" height="6.5" fill="#555"/>
<line x1="1212.0" y1="889" x2="1212.0" y2="895" stroke="#bbb" stroke-width="0.8"/>
<line x1="1214.6" y1="889" x2="1214.6" y2="895" stroke="#bbb" stroke-width="0.8"/>
<line x1="1217.2" y1="889" x2="1217.2" y2="895" stroke="#bbb" stroke-width="0.8"/>
<line x1="1219.8" y1="889" x2="1219.8" y2="895" stroke="#bbb" stroke-width="0.8"/>
<line x1="1222.4" y1="889" x2="1222.4" y2="895" stroke="#bbb" stroke-width="0.8"/>
<polygon points="1202.7,895.8 1244.3,895.8 1244.3,912 1238.5,918.6 1208.5,918.6 1202.7,912" fill="#a7a7aa" stroke="#3a3a3c" stroke-width="1.2" stroke-linejoin="round"/>
<rect x="1204.5" y="902" width="7" height="3.2" fill="#eee" stroke="#333" stroke-width="0.8"/><rect x="1235.5" y="902" width="7" height="3.2" fill="#eee" stroke="#333" stroke-width="0.8"/>
<rect x="1143.6" y="901" width="9" height="4" fill="#3c3c3e"/>
<rect x="1194" y="901" width="9" height="4" fill="#3c3c3e"/>
<g><g transform="translate(1090.5,701.5) rotate(18)" stroke="#3a3a3c" stroke-width="1.1" stroke-linejoin="round"><rect x="0" y="-4.6" width="14" height="9.2" fill="#a7a7aa"/><rect x="14" y="-7" width="9.5" height="14" fill="#a7a7aa"/><rect x="23.5" y="-5" width="6" height="10" fill="#4a4a4c"/><line x1="25.5" y1="-4.5" x2="25.5" y2="4.5" stroke="#888" stroke-width="0.6"/><line x1="27.5" y1="-4.5" x2="27.5" y2="4.5" stroke="#888" stroke-width="0.6"/><polygon points="29.5,-5 34,-5 41,3 37,9 31,6 29.5,5" fill="#a7a7aa"/></g><g transform="translate(1090.5,723.5) rotate(18)" stroke="#3a3a3c" stroke-width="1.1" stroke-linejoin="round"><rect x="0" y="-4.6" width="14" height="9.2" fill="#a7a7aa"/><rect x="14" y="-7" width="9.5" height="14" fill="#a7a7aa"/><rect x="23.5" y="-5" width="6" height="10" fill="#4a4a4c"/><line x1="25.5" y1="-4.5" x2="25.5" y2="4.5" stroke="#888" stroke-width="0.6"/><line x1="27.5" y1="-4.5" x2="27.5" y2="4.5" stroke="#888" stroke-width="0.6"/><polygon points="29.5,-5 34,-5 41,3 37,9 31,6 29.5,5" fill="#a7a7aa"/><polygon points="37,9 41,3 44,6 40,12" fill="#a7a7aa"/></g></g>
<g transform="translate(2346.5,0) scale(-1,1)"><g transform="translate(1090.5,701.5) rotate(18)" stroke="#3a3a3c" stroke-width="1.1" stroke-linejoin="round"><rect x="0" y="-4.6" width="14" height="9.2" fill="#a7a7aa"/><rect x="14" y="-7" width="9.5" height="14" fill="#a7a7aa"/><rect x="23.5" y="-5" width="6" height="10" fill="#4a4a4c"/><line x1="25.5" y1="-4.5" x2="25.5" y2="4.5" stroke="#888" stroke-width="0.6"/><line x1="27.5" y1="-4.5" x2="27.5" y2="4.5" stroke="#888" stroke-width="0.6"/><polygon points="29.5,-5 34,-5 41,3 37,9 31,6 29.5,5" fill="#a7a7aa"/></g><g transform="translate(1090.5,723.5) rotate(18)" stroke="#3a3a3c" stroke-width="1.1" stroke-linejoin="round"><rect x="0" y="-4.6" width="14" height="9.2" fill="#a7a7aa"/><rect x="14" y="-7" width="9.5" height="14" fill="#a7a7aa"/><rect x="23.5" y="-5" width="6" height="10" fill="#4a4a4c"/><line x1="25.5" y1="-4.5" x2="25.5" y2="4.5" stroke="#888" stroke-width="0.6"/><line x1="27.5" y1="-4.5" x2="27.5" y2="4.5" stroke="#888" stroke-width="0.6"/><polygon points="29.5,-5 34,-5 41,3 37,9 31,6 29.5,5" fill="#a7a7aa"/><polygon points="37,9 41,3 44,6 40,12" fill="#a7a7aa"/></g></g>
<circle cx="1173.5" cy="274.7" r="23.6" fill="#fdfbf8" stroke="#e48a3c" stroke-width="2" stroke-dasharray="6,4"/>
<circle cx="1173.5" cy="274.7" r="12" fill="none" stroke="#e48a3c" stroke-width="1.8" stroke-dasharray="5,4"/>
<line x1="1151" y1="274.7" x2="1196" y2="274.7" stroke="#e48a3c" stroke-width="1.8" stroke-dasharray="5,4"/>
<rect x="1162.1" y="239" width="9.6" height="22" rx="4" fill="#fdfbf8" stroke="#e48a3c" stroke-width="1.8" stroke-dasharray="5,3"/>
<rect x="1175.2" y="239" width="9.6" height="22" rx="4" fill="#fdfbf8" stroke="#e48a3c" stroke-width="1.8" stroke-dasharray="5,3"/>
<g><rect x="1192.4" y="346.1" width="20" height="22" rx="6" fill="#fff8ef" stroke="#e5802c" stroke-width="1.6"/><line x1="1197.4" y1="345.6" x2="1197.4" y2="368.6" stroke="#e5802c" stroke-width="1.1"/><line x1="1200.0" y1="345.6" x2="1200.0" y2="368.6" stroke="#e5802c" stroke-width="1.1"/><line x1="1202.6" y1="345.6" x2="1202.6" y2="368.6" stroke="#e5802c" stroke-width="1.1"/><line x1="1205.2" y1="345.6" x2="1205.2" y2="368.6" stroke="#e5802c" stroke-width="1.1"/><line x1="1207.8" y1="345.6" x2="1207.8" y2="368.6" stroke="#e5802c" stroke-width="1.1"/></g>
<g><rect x="1163.2" y="373.1" width="20" height="22" rx="6" fill="#fff8ef" stroke="#e5802c" stroke-width="1.6"/><line x1="1168.2" y1="372.6" x2="1168.2" y2="395.6" stroke="#e5802c" stroke-width="1.1"/><line x1="1170.8" y1="372.6" x2="1170.8" y2="395.6" stroke="#e5802c" stroke-width="1.1"/><line x1="1173.4" y1="372.6" x2="1173.4" y2="395.6" stroke="#e5802c" stroke-width="1.1"/><line x1="1176.0" y1="372.6" x2="1176.0" y2="395.6" stroke="#e5802c" stroke-width="1.1"/><line x1="1178.6" y1="372.6" x2="1178.6" y2="395.6" stroke="#e5802c" stroke-width="1.1"/></g>
<g><rect x="1192.4" y="373.1" width="20" height="22" rx="6" fill="#fff8ef" stroke="#e5802c" stroke-width="1.6"/><line x1="1197.4" y1="372.6" x2="1197.4" y2="395.6" stroke="#e5802c" stroke-width="1.1"/><line x1="1200.0" y1="372.6" x2="1200.0" y2="395.6" stroke="#e5802c" stroke-width="1.1"/><line x1="1202.6" y1="372.6" x2="1202.6" y2="395.6" stroke="#e5802c" stroke-width="1.1"/><line x1="1205.2" y1="372.6" x2="1205.2" y2="395.6" stroke="#e5802c" stroke-width="1.1"/><line x1="1207.8" y1="372.6" x2="1207.8" y2="395.6" stroke="#e5802c" stroke-width="1.1"/></g>
<g><rect x="1163.2" y="398.7" width="20" height="22" rx="6" fill="#fff8ef" stroke="#e5802c" stroke-width="1.6"/><line x1="1168.2" y1="398.2" x2="1168.2" y2="421.2" stroke="#e5802c" stroke-width="1.1"/><line x1="1170.8" y1="398.2" x2="1170.8" y2="421.2" stroke="#e5802c" stroke-width="1.1"/><line x1="1173.4" y1="398.2" x2="1173.4" y2="421.2" stroke="#e5802c" stroke-width="1.1"/><line x1="1176.0" y1="398.2" x2="1176.0" y2="421.2" stroke="#e5802c" stroke-width="1.1"/><line x1="1178.6" y1="398.2" x2="1178.6" y2="421.2" stroke="#e5802c" stroke-width="1.1"/></g>
<g><rect x="1192.4" y="398.7" width="20" height="22" rx="6" fill="#fff8ef" stroke="#e5802c" stroke-width="1.6"/><line x1="1197.4" y1="398.2" x2="1197.4" y2="421.2" stroke="#e5802c" stroke-width="1.1"/><line x1="1200.0" y1="398.2" x2="1200.0" y2="421.2" stroke="#e5802c" stroke-width="1.1"/><line x1="1202.6" y1="398.2" x2="1202.6" y2="421.2" stroke="#e5802c" stroke-width="1.1"/><line x1="1205.2" y1="398.2" x2="1205.2" y2="421.2" stroke="#e5802c" stroke-width="1.1"/><line x1="1207.8" y1="398.2" x2="1207.8" y2="421.2" stroke="#e5802c" stroke-width="1.1"/></g>
<g><rect x="1135.3" y="457.3" width="20" height="22" rx="6" fill="#fff8ef" stroke="#e5802c" stroke-width="1.6"/><line x1="1140.3" y1="456.8" x2="1140.3" y2="479.8" stroke="#e5802c" stroke-width="1.1"/><line x1="1142.9" y1="456.8" x2="1142.9" y2="479.8" stroke="#e5802c" stroke-width="1.1"/><line x1="1145.5" y1="456.8" x2="1145.5" y2="479.8" stroke="#e5802c" stroke-width="1.1"/><line x1="1148.1" y1="456.8" x2="1148.1" y2="479.8" stroke="#e5802c" stroke-width="1.1"/><line x1="1150.7" y1="456.8" x2="1150.7" y2="479.8" stroke="#e5802c" stroke-width="1.1"/></g>
<g><rect x="1163.2" y="457.3" width="20" height="22" rx="6" fill="#fff8ef" stroke="#e5802c" stroke-width="1.6"/><line x1="1168.2" y1="456.8" x2="1168.2" y2="479.8" stroke="#e5802c" stroke-width="1.1"/><line x1="1170.8" y1="456.8" x2="1170.8" y2="479.8" stroke="#e5802c" stroke-width="1.1"/><line x1="1173.4" y1="456.8" x2="1173.4" y2="479.8" stroke="#e5802c" stroke-width="1.1"/><line x1="1176.0" y1="456.8" x2="1176.0" y2="479.8" stroke="#e5802c" stroke-width="1.1"/><line x1="1178.6" y1="456.8" x2="1178.6" y2="479.8" stroke="#e5802c" stroke-width="1.1"/></g>
<g><rect x="1135.3" y="482.8" width="20" height="22" rx="6" fill="#fff8ef" stroke="#e5802c" stroke-width="1.6"/><line x1="1140.3" y1="482.3" x2="1140.3" y2="505.3" stroke="#e5802c" stroke-width="1.1"/><line x1="1142.9" y1="482.3" x2="1142.9" y2="505.3" stroke="#e5802c" stroke-width="1.1"/><line x1="1145.5" y1="482.3" x2="1145.5" y2="505.3" stroke="#e5802c" stroke-width="1.1"/><line x1="1148.1" y1="482.3" x2="1148.1" y2="505.3" stroke="#e5802c" stroke-width="1.1"/><line x1="1150.7" y1="482.3" x2="1150.7" y2="505.3" stroke="#e5802c" stroke-width="1.1"/></g>
<circle cx="1088.2" cy="497.3" r="9" fill="#fff" stroke="#222" stroke-width="1.6" stroke-dasharray="4.5,2.6"/>
<circle cx="1088.2" cy="497.3" r="3.6" fill="none" stroke="#222" stroke-width="1.5"/>
<polygon points="1103,314 1244,314 1272,437 1278,588 1330,665 1352,850 1273,850 1273,863 1241,894 1106,894 1074,864 1074,849 995,849 1017,666 1069,589 1075,439" fill="none" stroke="#0a0a0a" stroke-width="6" stroke-linejoin="miter"/>
<line x1="1246.2" y1="324" x2="1271.2" y2="433" stroke="#1c6b3a" stroke-width="5.2"/>
<line x1="1276.6" y1="528" x2="1277.6" y2="578" stroke="#1c6b3a" stroke-width="5.2"/>
<rect x="1270" y="499" width="13" height="25" fill="#d2d9e1"/>
<rect x="1270" y="499" width="6" height="25" fill="#d6d6d8"/>
<rect x="1274.0" y="498.5" width="5" height="25" fill="#e9e9ea"/><g stroke="#111" stroke-linecap="round"><path d="M 1270.8,499 Q 1276.5,508.4 1282.2,499" fill="#f4f4f4" stroke-width="1.9"/><path d="M 1270.8,523 Q 1276.5,513.6 1282.2,523" fill="#f4f4f4" stroke-width="1.9"/><rect x="1274.8" y="503.5" width="3.4" height="15" fill="#111" stroke="none"/><line x1="1272.5" y1="511" x2="1280.5" y2="511" stroke-width="1.9" stroke-linecap="butt"/></g>
<rect x="1213.5" y="498.5" width="5" height="25" fill="#e9e9ea"/><g stroke="#111" stroke-linecap="round"><path d="M 1210.3,499 Q 1216,508.4 1221.7,499" fill="#f4f4f4" stroke-width="1.9"/><path d="M 1210.3,523 Q 1216,513.6 1221.7,523" fill="#f4f4f4" stroke-width="1.9"/><rect x="1214.3" y="503.5" width="3.4" height="15" fill="#111" stroke="none"/><line x1="1212" y1="511" x2="1220" y2="511" stroke-width="1.9" stroke-linecap="butt"/></g>
<rect x="1156.5" y="540.0" width="5" height="25" fill="#e9e9ea"/><g stroke="#111" stroke-linecap="round"><path d="M 1153.3,540.5 Q 1159,549.9 1164.7,540.5" fill="#f4f4f4" stroke-width="1.9"/><path d="M 1153.3,564.5 Q 1159,555.1 1164.7,564.5" fill="#f4f4f4" stroke-width="1.9"/><rect x="1157.3" y="545.0" width="3.4" height="15" fill="#111" stroke="none"/><line x1="1155" y1="552.5" x2="1163" y2="552.5" stroke-width="1.9" stroke-linecap="butt"/></g>
<rect x="1142.5" y="609.5" width="5" height="25" fill="#e9e9ea"/><g stroke="#111" stroke-linecap="round"><path d="M 1139.3,610 Q 1145,619.4 1150.7,610" fill="#f4f4f4" stroke-width="1.9"/><path d="M 1139.3,634 Q 1145,624.6 1150.7,634" fill="#f4f4f4" stroke-width="1.9"/><rect x="1143.3" y="614.5" width="3.4" height="15" fill="#111" stroke="none"/><line x1="1141" y1="622" x2="1149" y2="622" stroke-width="1.9" stroke-linecap="butt"/></g>
<circle cx="1172.9" cy="673.2" r="9.1" fill="#fff" stroke="#1a1a1a" stroke-width="1.5"/>
<text x="1172.9" y="678.6" font-size="15.5" fill="#2a2a2a" text-anchor="middle" stroke="#2a2a2a" stroke-width="0.28">3</text>
<circle cx="1173" cy="791.4" r="9.1" fill="#fff" stroke="#1a1a1a" stroke-width="1.5"/>
<text x="1173" y="796.8" font-size="15.5" fill="#2a2a2a" text-anchor="middle" stroke="#2a2a2a" stroke-width="0.28">2</text>
<circle cx="1173" cy="876.2" r="9.1" fill="#fff" stroke="#1a1a1a" stroke-width="1.5"/>
<text x="1173" y="881.6" font-size="15.5" fill="#2a2a2a" text-anchor="middle" stroke="#2a2a2a" stroke-width="0.28">1</text>
<circle cx="1129.8" cy="723.3" r="9.1" fill="#fff" stroke="#1a1a1a" stroke-width="1.5"/>
<text x="1129.8" y="728.7" font-size="15.5" fill="#2a2a2a" text-anchor="middle" stroke="#2a2a2a" stroke-width="0.28">9</text>
<circle cx="1215.4" cy="723.3" r="9.1" fill="#fff" stroke="#1a1a1a" stroke-width="1.5"/>
<text x="1215.4" y="728.7" font-size="15.5" fill="#2a2a2a" text-anchor="middle" stroke="#2a2a2a" stroke-width="0.28">9</text>
<circle cx="1215.9" cy="552.4" r="9.1" fill="#fff" stroke="#1a1a1a" stroke-width="1.5"/>
<text x="1215.9" y="557.8" font-size="15.5" fill="#2a2a2a" text-anchor="middle" stroke="#2a2a2a" stroke-width="0.28">7</text>
<circle cx="1243.9" cy="511.9" r="9.1" fill="#fff" stroke="#1a1a1a" stroke-width="1.5"/>
<text x="1243.9" y="517.3" font-size="15.5" fill="#2a2a2a" text-anchor="middle" stroke="#2a2a2a" stroke-width="0.28">8</text>
<circle cx="1172.3" cy="441.2" r="9.1" fill="#fff" stroke="#1a1a1a" stroke-width="1.5"/>
<text x="1165.3" y="446.5" font-size="15.5" fill="#2a2a2a" textLength="13.8" lengthAdjust="spacingAndGlyphs" stroke="#2a2a2a" stroke-width="0.28">11</text>
<circle cx="1212.6" cy="272.2" r="9.3" fill="#fff" stroke="#1a1a1a" stroke-width="1.5"/>
<text x="1212.6" y="277.6" font-size="15.5" fill="#2a2a2a" text-anchor="middle" stroke="#2a2a2a" stroke-width="0.28">6</text>
<defs><clipPath id="h2clip"><polygon points="1470,440 1633,440 1651,469 1658.5,694.5 1637,694.5 1637,708.5 1651,708.5 1651,862.7 1608.8,905 1495.8,905 1453,862.7 1453,708.5 1466.5,708.5 1466.5,694.5 1445.1,694.5 1452.6,469"/></clipPath></defs>
<polygon points="1440.5,697 1466,697 1466,705 1451,705 1451,864 1435.5,851" fill="#6b818d"/>
<polygon points="1443.5,700 1463,700 1463,704 1450,704 1450,855 1439.5,846" fill="#a38a76"/>
<polygon points="1663.5,697 1638,697 1638,705 1653,705 1653,864 1668.5,851" fill="#6b818d"/>
<polygon points="1660.5,700 1641,700 1641,704 1654,704 1654,855 1664.5,846" fill="#a38a76"/>
<g clip-path="url(#h2clip)">
<rect x="1430" y="430" width="240" height="81" fill="#d5d5d7"/>
<rect x="1430" y="511" width="240" height="112" fill="#bccba8"/>
<rect x="1430" y="623" width="240" height="86" fill="#e6c7a2"/>
<rect x="1637" y="623" width="30" height="72" fill="#e2d8c8"/>
</g>
<g clip-path="url(#h2clip)" stroke="rgba(0,0,0,0.33)" stroke-width="1.1" fill="none"><line x1="1453.5" y1="430" x2="1453.5" y2="710" stroke-dasharray="5.91,3.47" stroke-dashoffset="6.91"/><line x1="1481.7" y1="430" x2="1481.7" y2="710" stroke-dasharray="5.91,3.47" stroke-dashoffset="6.91"/><line x1="1509.9" y1="430" x2="1509.9" y2="710" stroke-dasharray="5.91,3.47" stroke-dashoffset="6.91"/><line x1="1538.1" y1="430" x2="1538.1" y2="710" stroke-dasharray="5.91,3.47" stroke-dashoffset="6.91"/><line x1="1566.3" y1="430" x2="1566.3" y2="710" stroke-dasharray="5.91,3.47" stroke-dashoffset="6.91"/><line x1="1594.5" y1="430" x2="1594.5" y2="710" stroke-dasharray="5.91,3.47" stroke-dashoffset="6.91"/><line x1="1622.7" y1="430" x2="1622.7" y2="710" stroke-dasharray="5.91,3.47" stroke-dashoffset="6.91"/><line x1="1650.9" y1="430" x2="1650.9" y2="710" stroke-dasharray="5.91,3.47" stroke-dashoffset="6.91"/><line x1="1430" y1="454.2" x2="1670" y2="454.2" stroke-dasharray="5.92,3.48" stroke-dashoffset="7.66"/><line x1="1430" y1="482.35" x2="1670" y2="482.35" stroke-dasharray="5.92,3.48" stroke-dashoffset="7.66"/><line x1="1430" y1="510.5" x2="1670" y2="510.5" stroke-dasharray="5.92,3.48" stroke-dashoffset="7.66"/><line x1="1430" y1="538.65" x2="1670" y2="538.65" stroke-dasharray="5.92,3.48" stroke-dashoffset="7.66"/><line x1="1430" y1="566.8" x2="1670" y2="566.8" stroke-dasharray="5.92,3.48" stroke-dashoffset="7.66"/><line x1="1430" y1="594.95" x2="1670" y2="594.95" stroke-dasharray="5.92,3.48" stroke-dashoffset="7.66"/><line x1="1430" y1="623.1" x2="1670" y2="623.1" stroke-dasharray="5.92,3.48" stroke-dashoffset="7.66"/><line x1="1430" y1="651.25" x2="1670" y2="651.25" stroke-dasharray="5.92,3.48" stroke-dashoffset="7.66"/><line x1="1430" y1="679.4" x2="1670" y2="679.4" stroke-dasharray="5.92,3.48" stroke-dashoffset="7.66"/><line x1="1430" y1="707.55" x2="1670" y2="707.55" stroke-dasharray="5.92,3.48" stroke-dashoffset="7.66"/></g>
<polygon points="1453,708.5 1651,708.5 1651,862.7 1608.8,905 1495.8,905 1453,862.7" fill="#99999c" filter="url(#noise)"/>
<g stroke="#111" stroke-width="2.6" fill="none"><line x1="1448" y1="511" x2="1656" y2="511"/><line x1="1447" y1="623" x2="1658" y2="623"/><line x1="1466" y1="708.5" x2="1637" y2="708.5"/><line x1="1637" y1="623" x2="1637" y2="695"/><line x1="1523.7" y1="511" x2="1523.7" y2="623"/><line x1="1580.4" y1="511" x2="1580.4" y2="623"/><line x1="1495.5" y1="538.5" x2="1495.5" y2="595.7"/><line x1="1608" y1="538.5" x2="1608" y2="595.7"/><line x1="1448" y1="567" x2="1523.7" y2="567"/><line x1="1580.4" y1="567" x2="1656" y2="567"/><line x1="1495.5" y1="538.5" x2="1523.7" y2="538.5"/><line x1="1495.5" y1="595.7" x2="1523.7" y2="595.7"/><line x1="1580.4" y1="538.5" x2="1608" y2="538.5"/><line x1="1580.4" y1="595.7" x2="1608" y2="595.7"/></g>
<rect x="1521.5" y="513.5" width="4.4" height="22.5" rx="2" fill="#fff" stroke="#111" stroke-width="1.2"/>
<rect x="1521.5" y="598.5" width="4.4" height="23.0" rx="2" fill="#fff" stroke="#111" stroke-width="1.2"/>
<rect x="1578.2" y="513.5" width="4.4" height="22.5" rx="2" fill="#fff" stroke="#111" stroke-width="1.2"/>
<rect x="1578.2" y="598.5" width="4.4" height="23.0" rx="2" fill="#fff" stroke="#111" stroke-width="1.2"/>
<rect x="1497.5" y="536.3" width="23.0" height="4.4" rx="2" fill="#fff" stroke="#111" stroke-width="1.2"/>
<rect x="1497.5" y="593.5" width="23.0" height="4.4" rx="2" fill="#fff" stroke="#111" stroke-width="1.2"/>
<rect x="1583.5" y="536.3" width="22.5" height="4.4" rx="2" fill="#fff" stroke="#111" stroke-width="1.2"/>
<rect x="1583.5" y="593.5" width="22.5" height="4.4" rx="2" fill="#fff" stroke="#111" stroke-width="1.2"/>
<rect x="1458.6" y="545.8" width="31.40000000000009" height="14.800000000000068" rx="3.5" fill="#fff" stroke="#e5802c" stroke-width="1.6"/>
<rect x="1461.1" y="548.8" width="6" height="8.800000000000068" rx="2.5" fill="#fff" stroke="#e5802c" stroke-width="1.4"/>
<rect x="1458.6" y="574.4" width="31.40000000000009" height="14.800000000000068" rx="3.5" fill="#fff" stroke="#e5802c" stroke-width="1.6"/>
<rect x="1461.1" y="577.4" width="6" height="8.800000000000068" rx="2.5" fill="#fff" stroke="#e5802c" stroke-width="1.4"/>
<rect x="1613.6" y="545.8" width="31.40000000000009" height="14.800000000000068" rx="3.5" fill="#fff" stroke="#e5802c" stroke-width="1.6"/>
<rect x="1636.5" y="548.8" width="6" height="8.800000000000068" rx="2.5" fill="#fff" stroke="#e5802c" stroke-width="1.4"/>
<rect x="1613.6" y="574.4" width="31.40000000000009" height="14.800000000000068" rx="3.5" fill="#fff" stroke="#e5802c" stroke-width="1.6"/>
<rect x="1636.5" y="577.4" width="6" height="8.800000000000068" rx="2.5" fill="#fff" stroke="#e5802c" stroke-width="1.4"/>
<rect x="1500" y="544" width="19.5" height="18.5" rx="4" fill="#fff" stroke="#e5802c" stroke-width="1.6"/>
<line x1="1500" y1="551" x2="1519.5" y2="551" stroke="#e5802c" stroke-width="1.4"/>
<circle cx="1509.75" cy="557.5" r="1.8" fill="#e5802c"/>
<rect x="1500" y="572.6" width="19.5" height="17.399999999999977" rx="4" fill="#fff" stroke="#e5802c" stroke-width="1.6"/>
<line x1="1500" y1="583" x2="1519.5" y2="583" stroke="#e5802c" stroke-width="1.4"/>
<circle cx="1509.75" cy="577.6" r="1.8" fill="#e5802c"/>
<rect x="1584" y="544" width="20" height="18.5" rx="4" fill="#fff" stroke="#e5802c" stroke-width="1.6"/>
<line x1="1584" y1="551" x2="1604" y2="551" stroke="#e5802c" stroke-width="1.4"/>
<circle cx="1594.0" cy="557.5" r="1.8" fill="#e5802c"/>
<rect x="1584" y="572.6" width="20" height="17.399999999999977" rx="4" fill="#fff" stroke="#e5802c" stroke-width="1.6"/>
<line x1="1584" y1="583" x2="1604" y2="583" stroke="#e5802c" stroke-width="1.4"/>
<circle cx="1594.0" cy="577.6" r="1.8" fill="#e5802c"/>
<rect x="1544.8" y="550.5" width="12" height="7" rx="3" fill="#fff" stroke="#e5802c" stroke-width="1.4"/>
<rect x="1544.8" y="576.5" width="12" height="7" rx="3" fill="#fff" stroke="#e5802c" stroke-width="1.4"/>
<rect x="1534.3" y="561.0" width="7" height="12" rx="3" fill="#fff" stroke="#e5802c" stroke-width="1.4"/>
<rect x="1560.3" y="561.0" width="7" height="12" rx="3" fill="#fff" stroke="#e5802c" stroke-width="1.4"/>
<circle cx="1550.8" cy="567" r="11" fill="#fff" stroke="#e5802c" stroke-width="1.6"/>
<path d="M 1499.5,650.0 Q 1509.5,645.0 1519.5,650.0 Q 1509.5,655.0 1499.5,650.0 Z" fill="#fff" stroke="#e5802c" stroke-width="1.4"/>
<rect x="1498.5" y="658.5" width="4" height="10" rx="2" fill="#fff" stroke="#e5802c" stroke-width="1.2"/>
<rect x="1516.5" y="658.5" width="4" height="10" rx="2" fill="#fff" stroke="#e5802c" stroke-width="1.2"/>
<rect x="1501.5" y="656.5" width="16" height="15" rx="3" fill="#fff" stroke="#e5802c" stroke-width="1.6"/>
<path d="M 1501.5,674.0 Q 1509.5,669.0 1517.5,674.0 Q 1509.5,678.5 1501.5,674.0 Z" fill="#fff" stroke="#e5802c" stroke-width="1.4"/>
<path d="M 1584.2,650.0 Q 1594.2,645.0 1604.2,650.0 Q 1594.2,655.0 1584.2,650.0 Z" fill="#fff" stroke="#e5802c" stroke-width="1.4"/>
<rect x="1583.2" y="658.5" width="4" height="10" rx="2" fill="#fff" stroke="#e5802c" stroke-width="1.2"/>
<rect x="1601.2" y="658.5" width="4" height="10" rx="2" fill="#fff" stroke="#e5802c" stroke-width="1.2"/>
<rect x="1586.2" y="656.5" width="16" height="15" rx="3" fill="#fff" stroke="#e5802c" stroke-width="1.6"/>
<path d="M 1586.2,674.0 Q 1594.2,669.0 1602.2,674.0 Q 1594.2,678.5 1586.2,674.0 Z" fill="#fff" stroke="#e5802c" stroke-width="1.4"/>
<rect x="1643" y="626" width="12" height="5" rx="1" fill="#a7a7aa" stroke="#3a3a3c" stroke-width="1.2"/>
<rect x="1641" y="632" width="15" height="8" rx="1" fill="#a7a7aa" stroke="#3a3a3c" stroke-width="1.2"/>
<rect x="1642" y="640" width="13" height="5" fill="#3c3c3e"/>
<rect x="1642" y="645" width="13" height="4" rx="1" fill="#a7a7aa" stroke="#3a3a3c" stroke-width="1.2"/>
<polygon points="1638.5,649 1658,649 1658,664 1651,671 1645,671 1638.5,664" fill="#a7a7aa" stroke="#3a3a3c" stroke-width="1.2" stroke-linejoin="round"/>
<rect x="1640" y="654" width="5" height="2.5" fill="#eee"/><rect x="1651.5" y="654" width="5" height="2.5" fill="#eee"/>
<g><rect x="1541.8" y="457.3" width="20" height="22" rx="6" fill="#fff8ef" stroke="#e5802c" stroke-width="1.6"/><line x1="1546.8" y1="456.8" x2="1546.8" y2="479.8" stroke="#e5802c" stroke-width="1.1"/><line x1="1549.4" y1="456.8" x2="1549.4" y2="479.8" stroke="#e5802c" stroke-width="1.1"/><line x1="1552.0" y1="456.8" x2="1552.0" y2="479.8" stroke="#e5802c" stroke-width="1.1"/><line x1="1554.6" y1="456.8" x2="1554.6" y2="479.8" stroke="#e5802c" stroke-width="1.1"/><line x1="1557.2" y1="456.8" x2="1557.2" y2="479.8" stroke="#e5802c" stroke-width="1.1"/></g>
<g><rect x="1569.8" y="457.3" width="20" height="22" rx="6" fill="#fff8ef" stroke="#e5802c" stroke-width="1.6"/><line x1="1574.8" y1="456.8" x2="1574.8" y2="479.8" stroke="#e5802c" stroke-width="1.1"/><line x1="1577.4" y1="456.8" x2="1577.4" y2="479.8" stroke="#e5802c" stroke-width="1.1"/><line x1="1580.0" y1="456.8" x2="1580.0" y2="479.8" stroke="#e5802c" stroke-width="1.1"/><line x1="1582.6" y1="456.8" x2="1582.6" y2="479.8" stroke="#e5802c" stroke-width="1.1"/><line x1="1585.2" y1="456.8" x2="1585.2" y2="479.8" stroke="#e5802c" stroke-width="1.1"/></g>
<g><rect x="1569.8" y="485.5" width="20" height="22" rx="6" fill="#fff8ef" stroke="#e5802c" stroke-width="1.6"/><line x1="1574.8" y1="485.0" x2="1574.8" y2="508.0" stroke="#e5802c" stroke-width="1.1"/><line x1="1577.4" y1="485.0" x2="1577.4" y2="508.0" stroke="#e5802c" stroke-width="1.1"/><line x1="1580.0" y1="485.0" x2="1580.0" y2="508.0" stroke="#e5802c" stroke-width="1.1"/><line x1="1582.6" y1="485.0" x2="1582.6" y2="508.0" stroke="#e5802c" stroke-width="1.1"/><line x1="1585.2" y1="485.0" x2="1585.2" y2="508.0" stroke="#e5802c" stroke-width="1.1"/></g>
<g><rect x="1598.0" y="485.5" width="20" height="22" rx="6" fill="#fff8ef" stroke="#e5802c" stroke-width="1.6"/><line x1="1603.0" y1="485.0" x2="1603.0" y2="508.0" stroke="#e5802c" stroke-width="1.1"/><line x1="1605.6" y1="485.0" x2="1605.6" y2="508.0" stroke="#e5802c" stroke-width="1.1"/><line x1="1608.2" y1="485.0" x2="1608.2" y2="508.0" stroke="#e5802c" stroke-width="1.1"/><line x1="1610.8" y1="485.0" x2="1610.8" y2="508.0" stroke="#e5802c" stroke-width="1.1"/><line x1="1613.4" y1="485.0" x2="1613.4" y2="508.0" stroke="#e5802c" stroke-width="1.1"/></g>
<polygon points="1477.5,497.0 1472.25,506.09 1461.75,506.09 1456.5,497.0 1461.75,487.91 1472.25,487.91" fill="#fff" stroke="#222" stroke-width="1.6"/>
<circle cx="1467" cy="497" r="3.8" fill="none" stroke="#222" stroke-width="1.5"/>
<polygon points="1470,440 1633,440 1651,469 1658.5,694.5 1637,694.5 1637,708.5 1651,708.5 1651,862.7 1608.8,905 1495.8,905 1453,862.7 1453,708.5 1466.5,708.5 1466.5,694.5 1445.1,694.5 1452.6,469" fill="none" stroke="#0a0a0a" stroke-width="6" stroke-linejoin="miter"/>
<rect x="1540.75" y="508.25" width="23" height="5" fill="#d8ddd0"/><g fill="#111" stroke="#111"><polygon points="1544.75,507.15 1552.25,510.75 1544.75,514.35" stroke-width="0.5"/><polygon points="1559.75,507.15 1552.25,510.75 1559.75,514.35" stroke-width="0.5"/><line x1="1540.75" y1="505.95" x2="1563.75" y2="515.55" stroke-width="2.2"/><line x1="1540.75" y1="515.55" x2="1563.75" y2="505.95" stroke-width="2.2"/></g>
<rect x="1540.75" y="620.5" width="23" height="5" fill="#e0d6c4"/><g fill="#111" stroke="#111"><polygon points="1544.75,619.4 1552.25,623 1544.75,626.6" stroke-width="0.5"/><polygon points="1559.75,619.4 1552.25,623 1559.75,626.6" stroke-width="0.5"/><line x1="1540.75" y1="618.2" x2="1563.75" y2="627.8" stroke-width="2.2"/><line x1="1540.75" y1="627.8" x2="1563.75" y2="618.2" stroke-width="2.2"/></g>
<circle cx="1475.2" cy="527.4" r="9.1" fill="#fff" stroke="#1a1a1a" stroke-width="1.5"/>
<text x="1468.2" y="532.7" font-size="15.5" fill="#2a2a2a" textLength="13.8" lengthAdjust="spacingAndGlyphs" stroke="#2a2a2a" stroke-width="0.28">10</text>
<circle cx="1628.3" cy="527.4" r="9.1" fill="#fff" stroke="#1a1a1a" stroke-width="1.5"/>
<text x="1621.3" y="532.7" font-size="15.5" fill="#2a2a2a" textLength="13.8" lengthAdjust="spacingAndGlyphs" stroke="#2a2a2a" stroke-width="0.28">10</text>
<circle cx="1475.2" cy="603" r="9.1" fill="#fff" stroke="#1a1a1a" stroke-width="1.5"/>
<text x="1468.2" y="608.3" font-size="15.5" fill="#2a2a2a" textLength="13.8" lengthAdjust="spacingAndGlyphs" stroke="#2a2a2a" stroke-width="0.28">10</text>
<circle cx="1628.3" cy="603" r="9.1" fill="#fff" stroke="#1a1a1a" stroke-width="1.5"/>
<text x="1621.3" y="608.3" font-size="15.5" fill="#2a2a2a" textLength="13.8" lengthAdjust="spacingAndGlyphs" stroke="#2a2a2a" stroke-width="0.28">10</text>
<circle cx="1550.8" cy="535.7" r="9.1" fill="#fff" stroke="#1a1a1a" stroke-width="1.5"/>
<text x="1543.8" y="541.0" font-size="15.5" fill="#2a2a2a" textLength="13.8" lengthAdjust="spacingAndGlyphs" stroke="#2a2a2a" stroke-width="0.28">12</text>
<circle cx="1550.8" cy="495" r="9.1" fill="#fff" stroke="#1a1a1a" stroke-width="1.5"/>
<text x="1543.8" y="500.3" font-size="15.5" fill="#2a2a2a" textLength="13.8" lengthAdjust="spacingAndGlyphs" stroke="#2a2a2a" stroke-width="0.28">11</text>
<circle cx="1550.9" cy="667.2" r="9.1" fill="#fff" stroke="#1a1a1a" stroke-width="1.5"/>
<text x="1550.9" y="672.6" font-size="15.5" fill="#2a2a2a" text-anchor="middle" stroke="#2a2a2a" stroke-width="0.28">4</text>
<circle cx="1647" cy="677.5" r="9.1" fill="#fff" stroke="#1a1a1a" stroke-width="1.5"/>
<text x="1647" y="682.9" font-size="15.5" fill="#2a2a2a" text-anchor="middle" stroke="#2a2a2a" stroke-width="0.28">5</text>
<defs><linearGradient id="redg" x1="0" y1="0" x2="1" y2="0.6"><stop offset="0" stop-color="#905648"/><stop offset="0.6" stop-color="#84493c"/><stop offset="1" stop-color="#8e5444"/></linearGradient><linearGradient id="noseg" x1="0" y1="0" x2="1" y2="0.25"><stop offset="0" stop-color="#6a2c26"/><stop offset="0.3" stop-color="#8c2c26"/><stop offset="0.55" stop-color="#6e3830"/><stop offset="1" stop-color="#7d4c42"/></linearGradient><linearGradient id="rustg" x1="0" y1="0" x2="1" y2="1"><stop offset="0" stop-color="#9a5638"/><stop offset="0.5" stop-color="#6a3c30"/><stop offset="1" stop-color="#8a4a34"/></linearGradient><filter id="blur1"><feGaussianBlur stdDeviation="1.3"/></filter></defs>
<g>
<polygon points="122,821 158,866 172,876 196,879 231,896 294,928 322,958 348,991 402,1024 460,1081 497,1101 510,1106 548,1100 497,1085 440,1055 345,975 325,935 240,885 190,862 160,845" fill="#e07a3a" filter="url(#blur1)"/>
<polygon points="123,818 179,828 222,827 221,794 317.5,776.6 338,781 352.5,779.8 390.6,802 412.8,819.5 446,843 470,862 490,880 512,905 525,925 532,940 538,955 583,1051 585,1058 583,1076 570,1090 545,1097 508,1102 493,1099 460,1078 425,1045 402,1021 349,988 324,957 296,925 231,892 195,876 172,873 150,856" fill="url(#rustg)"/>
<polygon points="123,818 179,828 222,827 258,834 258,842 205,846 180,846 165,852 150,850" fill="#3e6367"/>
<polygon points="140,822 200,828 258,834 258,842 205,845 160,838" fill="#4f787d"/>
<polygon points="126,820 168,838 180,872 160,867 145,850" fill="#33555a"/>
<ellipse cx="181" cy="861" rx="16" ry="14.5" fill="#3e3836"/><ellipse cx="179" cy="858" rx="14" ry="12" fill="none" stroke="#5f8a8e" stroke-width="2"/><ellipse cx="186" cy="863" rx="9.5" ry="9.5" fill="#161414"/><circle cx="187" cy="862" r="3.5" fill="#2e2e2e"/>
<ellipse cx="199" cy="844" rx="6" ry="6" fill="#3a2e2c"/><circle cx="200" cy="845" r="3" fill="#1a1616"/>
<g fill="#2a2a2a"><rect x="183" y="829.0" width="2" height="8" transform="rotate(-20 184 833.0)"/><rect x="186" y="830.2" width="2" height="8" transform="rotate(-20 187 834.2)"/><rect x="189" y="831.4" width="2" height="8" transform="rotate(-20 190 835.4)"/><rect x="192" y="832.6" width="2" height="8" transform="rotate(-20 193 836.6)"/></g>
<polygon points="197,849 213,847 216,861 208,866 199,862" fill="#d2d9e1"/>
<polygon points="160,868 198,862 236,888 236,900 200,884 173,877" fill="#4a3632"/>
<polygon points="212.7,843.3 263.5,854.4 303.2,886.2 303.2,921.1 287.4,919.5 231.8,898.9 212.7,864" fill="#456c71"/>
<polygon points="230,852 262,858 285,880 250,872" fill="#5f8a8e"/>
<polygon points="250,880 280,885 303,905 303,921 287,919 262,905" fill="#3c6166"/>
<g fill="#1e1e1e"><rect x="266.0" y="890.0" width="1.6" height="13"/><rect x="268.8" y="890.8" width="1.6" height="13"/><rect x="271.6" y="891.6" width="1.6" height="13"/><rect x="274.4" y="892.4" width="1.6" height="13"/><rect x="277.2" y="893.2" width="1.6" height="13"/><rect x="280.0" y="894.0" width="1.6" height="13"/><rect x="282.8" y="894.8" width="1.6" height="13"/><rect x="285.6" y="895.6" width="1.6" height="13"/></g>
<g fill="#1e1e1e"><rect x="256.0" y="906.0" width="1.6" height="10"/><rect x="258.8" y="906.8" width="1.6" height="10"/><rect x="261.6" y="907.6" width="1.6" height="10"/><rect x="264.4" y="908.4" width="1.6" height="10"/><rect x="267.2" y="909.2" width="1.6" height="10"/><rect x="270.0" y="910.0" width="1.6" height="10"/><rect x="272.8" y="910.8" width="1.6" height="10"/><rect x="275.6" y="911.6" width="1.6" height="10"/><rect x="278.4" y="912.4" width="1.6" height="10"/><rect x="281.2" y="913.2" width="1.6" height="10"/></g>
<g fill="#e08a4a"><rect x="268.0" y="903.0" width="1.2" height="2"/><rect x="270.8" y="903.8" width="1.2" height="2"/><rect x="273.6" y="904.6" width="1.2" height="2"/><rect x="276.4" y="905.4" width="1.2" height="2"/><rect x="279.2" y="906.2" width="1.2" height="2"/><rect x="282.0" y="907.0" width="1.2" height="2"/></g>
<polygon points="221.4,794 317.5,776.6 338,781 390.6,802 414.4,824.2 430.3,838.5 435,849.6 339.8,844.9 336.6,841.7 327,886.2 263.5,851.2 242.9,810" fill="url(#redg)"/>
<polygon points="221.4,794 242.9,810 263.5,851.2 250,848 230,820 222,805" fill="#4a2e28"/>
<polygon points="263.5,821 338,839 332,886 262,852" fill="#6c3128"/>
<polygon points="303,828 338,839 335,862 308,852" fill="#86382e"/>
<g stroke="#ddd0cc" stroke-width="1.3" opacity="0.9"><line x1="269.0" y1="831.0" x2="268.0" y2="840.0"/><line x1="272.5" y1="833.5" x2="271.5" y2="842.5"/><line x1="276.0" y1="835.9" x2="275.0" y2="844.9"/><line x1="279.5" y1="838.4" x2="278.5" y2="847.4"/><line x1="283.0" y1="840.8" x2="282.0" y2="849.8"/><line x1="286.5" y1="843.2" x2="285.5" y2="852.2"/><line x1="290.0" y1="845.7" x2="289.0" y2="854.7"/><line x1="293.5" y1="848.1" x2="292.5" y2="857.1"/><line x1="297.0" y1="850.6" x2="296.0" y2="859.6"/><line x1="300.5" y1="853.0" x2="299.5" y2="862.0"/><line x1="304.0" y1="855.5" x2="303.0" y2="864.5"/><line x1="307.5" y1="858.0" x2="306.5" y2="867.0"/><line x1="311.0" y1="860.4" x2="310.0" y2="869.4"/><line x1="314.5" y1="862.9" x2="313.5" y2="871.9"/><line x1="318.0" y1="865.3" x2="317.0" y2="874.3"/><line x1="321.5" y1="867.8" x2="320.5" y2="876.8"/><line x1="325.0" y1="870.2" x2="324.0" y2="879.2"/></g>
<polygon points="246,810 339.8,792.5 368.4,805.2 269.9,821" fill="#2a2524"/>
<polygon points="320.7,824.2 389,811.5 404.9,822.6 336.6,840" fill="#2a2524"/>
<polygon points="309.6,781.4 333,779 338,789 313,791" fill="#2a2524"/>
<g stroke="#5a5050" stroke-width="0.7" fill="none"><line x1="258" y1="815" x2="352" y2="798"/><line x1="290" y1="808" x2="315" y2="815"/><line x1="320" y1="802" x2="345" y2="809"/><line x1="330" y1="831" x2="397" y2="817"/><line x1="355" y1="820" x2="370" y2="832"/><line x1="375" y1="815" x2="388" y2="828"/></g>
<polygon points="339.8,844.9 430.3,838.5 435,849.6 343,858" fill="#262626"/>
<g stroke="#555" stroke-width="0.8"><line x1="345" y1="849" x2="430" y2="843"/><line x1="345" y1="853" x2="432" y2="847"/></g>
<polygon points="406.5,825.8 430.3,838.5 435,849.6 425,846 410,832" fill="#b07060"/>
<polygon points="338.2,781.4 352.5,779.8 390.6,802 412.8,819.5 395.4,814.7 358.8,798.8" fill="#4e777c"/>
<polygon points="372,793 392,803 395,808 375,800" fill="#2a2a2a"/>
<polygon points="333.4,864 343,858 435,849.6 446,843 470,862 490,880 512,905 525,925 532,940 520,942 485,906 407.6,916 380,905 343,883" fill="#44696e"/>
<polygon points="355.6,868.7 411.2,859.2 430.3,873.5 374.7,884.6" fill="#9cbdbe"/>
<polygon points="365,871 395,866 405,874 375,879" fill="#b3cfcf"/>
<polygon points="374.7,884.6 430.3,873.5 460,890 470,905 407.6,916 385,900" fill="#3f676c"/>
<polygon points="440,862 470,862 480,875 450,878" fill="#2a3234"/>
<polygon points="420,895 470,885 476,893 425,903" fill="#2a3234"/>
<polygon points="480,880 510,905 500,910 478,890" fill="#6f9a9d"/>
<polygon points="296,925 319.5,907.6 343,883 380,905 407.6,916 418,955 430,1000 418,1018 398.4,1008.3 345,949" fill="#436870"/>
<polygon points="321,909.6 345,920 360,935 392.5,1012 345,974.7" fill="#3f646b"/>
<polygon points="319,905 407.6,916 525.5,1062.5 497,1060 467,1053 418,1018" fill="#42696e"/>
<polygon points="410,925 440,950 497,1040 497,1058 465,1050 430,990" fill="#587f83"/>
<polygon points="425,955 445,975 497,1045 497,1058 470,1048 432,990" fill="#36575c"/>
<g stroke="#263436" stroke-width="1.3"><line x1="425" y1="945" x2="500" y2="1040"/><line x1="440" y1="1000" x2="470" y2="1005"/><line x1="455" y1="1020" x2="485" y2="1030"/></g>
<polygon points="296,925 345,974.7 392.5,1005 418,1012 467.5,1050 497,1061.6 497,1096 470,1080 402,1021 349,988 324,957" fill="url(#rustg)"/>
<polygon points="300,930 322,955 334,975 318,962" fill="#b8683c"/>
<g stroke="#2c2a2a" stroke-width="1.2" fill="none" opacity="0.9"><polyline points="345,975 392,1012 418,1018 467,1054 497,1062"/><line x1="360" y1="992" x2="490" y2="1088"/></g>
<g stroke="#e6a070" stroke-width="1.1" fill="none" opacity="0.85"><path d="M 322,905 Q 350,915 395,948"/><path d="M 345,945 Q 360,930 375,925"/><path d="M 367,990 Q 380,965 390,955"/></g>
<g stroke="#1f2b2c" stroke-width="1.4" fill="none"><line x1="343" y1="883" x2="410" y2="916"/><line x1="360" y1="935" x2="392" y2="1012"/><line x1="407" y1="916" x2="420" y2="1012"/></g>
<polygon points="405,916 486,903 584,1047 496,1068" fill="url(#noseg)"/>
<polygon points="405,916 417,914 505,1066 496,1068" fill="#2f4a4e"/>
<polygon points="496,1068 584,1047 586,1053 498,1073" fill="#a06a5c"/>
<polygon points="470,904 485.3,901.5 495,915 478,918" fill="#b07a6a"/>
<g stroke="#dccac4" stroke-width="5" opacity="0.75"><line x1="452.0" y1="928.0" x2="491.0" y2="948.0"/><line x1="461.5" y1="944.8" x2="500.5" y2="964.8"/><line x1="471.0" y1="961.6" x2="510.0" y2="981.6"/><line x1="480.5" y1="978.4" x2="519.5" y2="998.4"/><line x1="490.0" y1="995.2" x2="529.0" y2="1015.2"/><line x1="499.5" y1="1012.0" x2="538.5" y2="1032.0"/></g>
<g stroke="#5a2a24" stroke-width="0.8"><line x1="430" y1="912" x2="530" y2="1060"/><line x1="455" y1="908" x2="555" y2="1055"/></g>
<polygon points="496,1071 586,1051 584,1078 566,1091 510,1103 495,1099" fill="#3a2e2a"/>
<polygon points="493,1068 505,1070 508,1103 494,1099" fill="#2b2624"/>
<ellipse cx="527" cy="1081" rx="17" ry="12" fill="#4a4544"/><ellipse cx="533" cy="1083" rx="9.5" ry="8" fill="#77726f"/><ellipse cx="537" cy="1085" rx="3.5" ry="3" fill="#2a2a2a"/>
<ellipse cx="566" cy="1070" rx="16" ry="11.5" fill="#4a4544"/><ellipse cx="572" cy="1072" rx="9" ry="7.5" fill="#77726f"/><ellipse cx="576" cy="1074" rx="3.5" ry="3" fill="#2a2a2a"/>
</g>
</svg>
</body></html>
